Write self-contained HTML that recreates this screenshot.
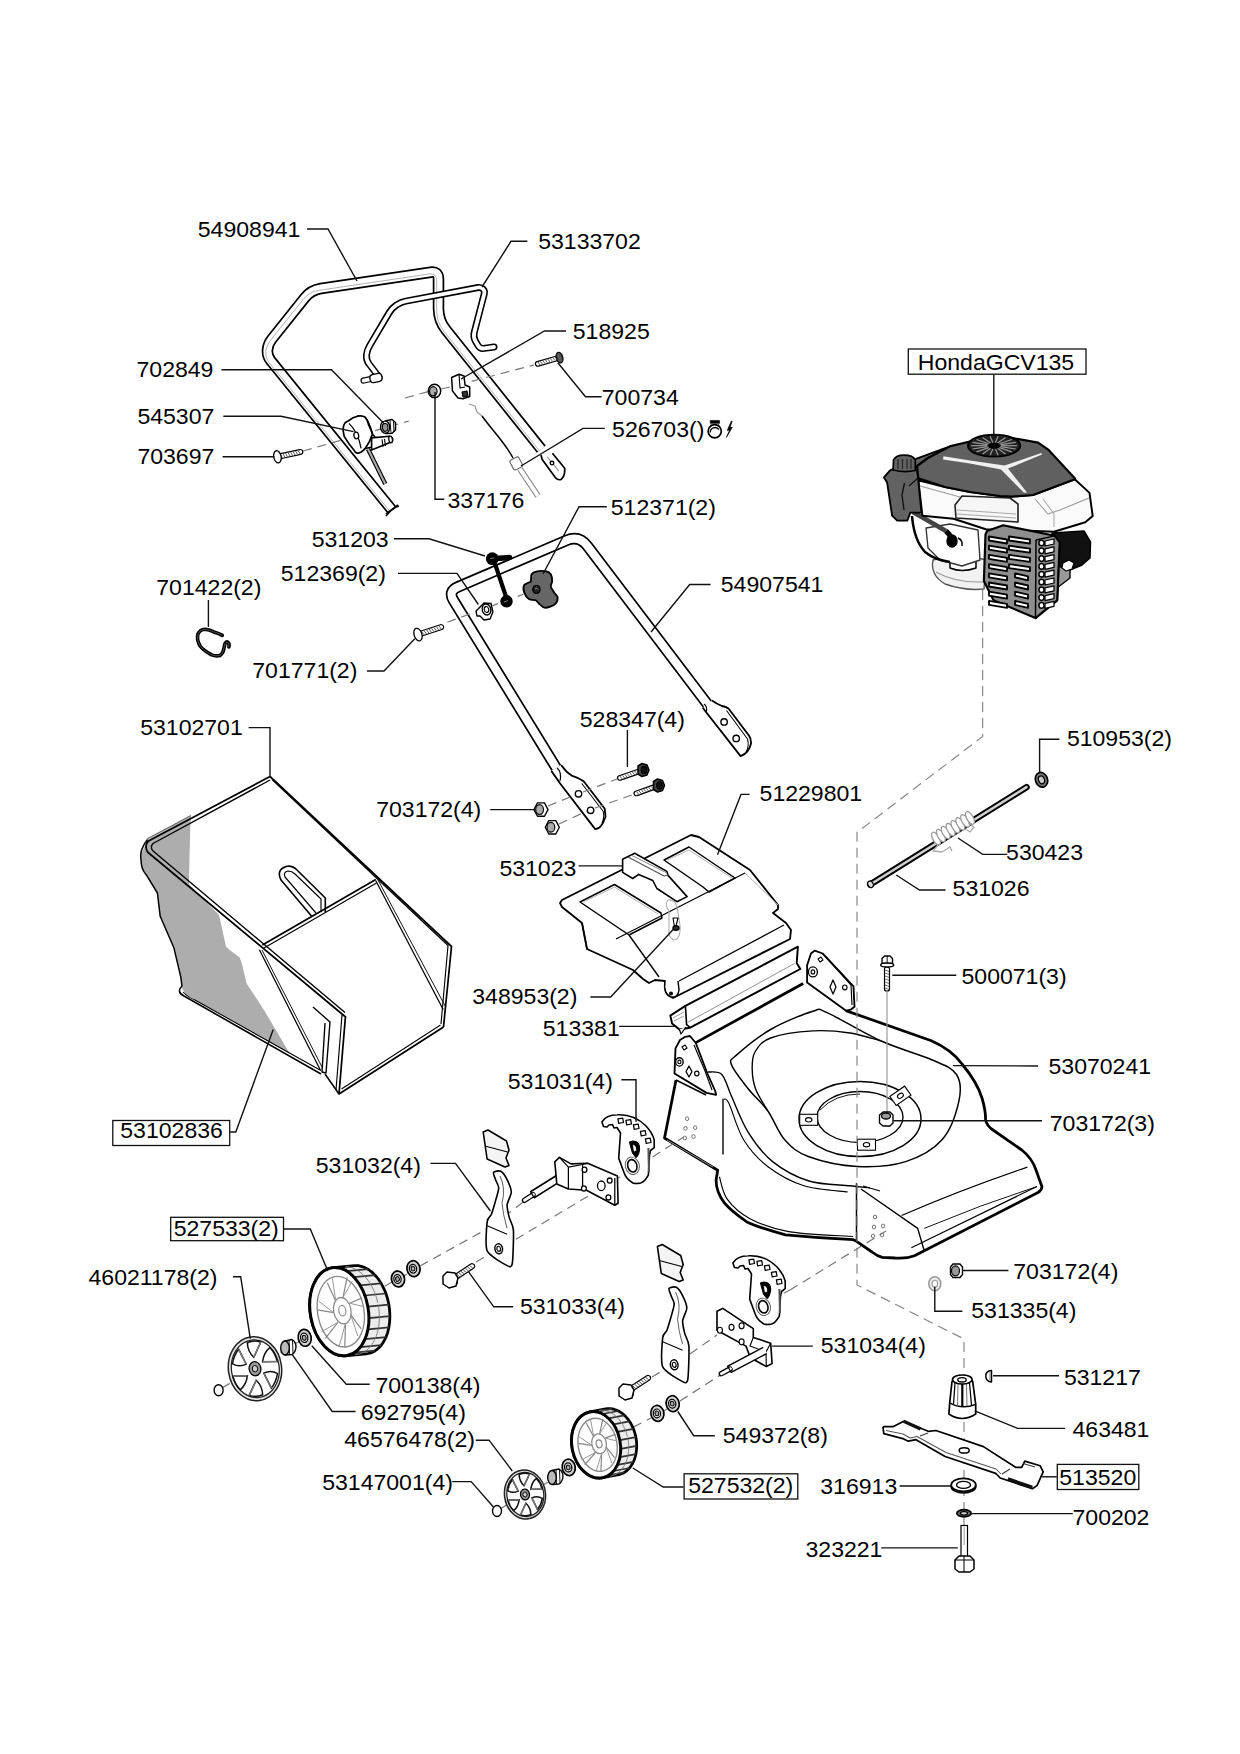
<!DOCTYPE html><html><head><meta charset="utf-8"><style>html,body{margin:0;padding:0;background:#fff}svg{display:block}</style></head><body>
<svg width="1240" height="1754" viewBox="0 0 1240 1754">
<rect width="1240" height="1754" fill="#fff"/>
<path d="M392.0,510.0 L270.8,360.7 Q267.0,356.0 267.5,350.0 L267.5,350.0 Q268.0,344.0 271.7,339.3 L304.8,297.8 Q311.0,290.0 320.9,288.5 L430.6,272.2 Q438.5,271.0 438.5,279.0 L438.5,308.5 Q438.5,320.5 446.0,329.9 L541.3,449.2" fill="none" stroke="#000" stroke-width="11.5" stroke-linecap="butt" stroke-linejoin="round"/>
<path d="M392.0,510.0 L270.8,360.7 Q267.0,356.0 267.5,350.0 L267.5,350.0 Q268.0,344.0 271.7,339.3 L304.8,297.8 Q311.0,290.0 320.9,288.5 L430.6,272.2 Q438.5,271.0 438.5,279.0 L438.5,308.5 Q438.5,320.5 446.0,329.9 L541.3,449.2" fill="none" stroke="#fff" stroke-width="8.1" stroke-linecap="butt" stroke-linejoin="round"/>
<path d="M392.0,510.0 L270.8,360.7 Q267.0,356.0 267.5,350.0 L267.5,350.0 Q268.0,344.0 271.7,339.3 L304.8,297.8 Q311.0,290.0 320.9,288.5 L430.6,272.2 Q438.5,271.0 438.5,279.0 L438.5,308.5 Q438.5,320.5 446.0,329.9 L541.3,449.2" fill="none" stroke="#aaa" stroke-width="0.9" stroke-linecap="butt" transform="translate(-1.8,1.8)"/>
<path d="M386,514 L398,505" fill="none" stroke="#000" stroke-width="1.61" stroke-linejoin="round" />
<path d="M379.0,377.0 L369.1,364.0 Q366.0,360.0 366.5,355.0 L366.5,355.0 Q367.0,350.0 369.6,345.7 L389.2,312.6 Q392.0,308.0 396.5,305.0 L396.8,304.8 Q401.0,302.0 405.9,301.1 L478.2,287.5 Q481.0,287.0 483.0,289.0 L483.0,289.0 Q485.0,291.0 484.3,293.7 L474.3,332.2 Q473.0,337.0 475.5,341.3 L478.0,345.5 Q480.0,349.0 484.0,348.4 L494.0,347.0" fill="none" stroke="#000" stroke-width="7.0" stroke-linecap="round" stroke-linejoin="round"/>
<path d="M379.0,377.0 L369.1,364.0 Q366.0,360.0 366.5,355.0 L366.5,355.0 Q367.0,350.0 369.6,345.7 L389.2,312.6 Q392.0,308.0 396.5,305.0 L396.8,304.8 Q401.0,302.0 405.9,301.1 L478.2,287.5 Q481.0,287.0 483.0,289.0 L483.0,289.0 Q485.0,291.0 484.3,293.7 L474.3,332.2 Q473.0,337.0 475.5,341.3 L478.0,345.5 Q480.0,349.0 484.0,348.4 L494.0,347.0" fill="none" stroke="#fff" stroke-width="3.8" stroke-linecap="round" stroke-linejoin="round"/>
<rect x="361" y="377.5" width="11" height="5" rx="2.5" fill="#fff" stroke="#000" stroke-width="1.2" transform="rotate(-12 366 380)"/>
<rect x="370" y="374" width="12" height="8" rx="3" fill="#fff" stroke="#000" stroke-width="1.3" transform="rotate(-12 376 378)"/>
<path d="M303.0,451.0 L409.0,421.0" fill="none" stroke="#777" stroke-width="1.2" stroke-dasharray="9,6"/>
<path d="M405.0,398.0 L434.0,390.0" fill="none" stroke="#777" stroke-width="1.2" stroke-dasharray="9,6"/>
<path d="M441.0,389.0 L452.0,386.5" fill="none" stroke="#777" stroke-width="1.2" stroke-dasharray="9,6"/>
<path d="M471.6,381.3 L534.0,365.0" fill="none" stroke="#777" stroke-width="1.2" stroke-dasharray="9,6"/>
<g transform="translate(302.7,451.5) rotate(168.1)">
<rect x="0" y="-2.5" width="25.8" height="5.0" rx="2.5" fill="#fff" stroke="#000" stroke-width="1.2"/>
<line x1="3.0" y1="-1.9" x2="4.2" y2="1.9" stroke="#555" stroke-width="0.9"/>
<line x1="5.6" y1="-1.9" x2="6.8" y2="1.9" stroke="#555" stroke-width="0.9"/>
<line x1="8.2" y1="-1.9" x2="9.4" y2="1.9" stroke="#555" stroke-width="0.9"/>
<line x1="10.8" y1="-1.9" x2="12.0" y2="1.9" stroke="#555" stroke-width="0.9"/>
<line x1="13.4" y1="-1.9" x2="14.6" y2="1.9" stroke="#555" stroke-width="0.9"/>
<line x1="16.0" y1="-1.9" x2="17.2" y2="1.9" stroke="#555" stroke-width="0.9"/>
<line x1="18.6" y1="-1.9" x2="19.8" y2="1.9" stroke="#555" stroke-width="0.9"/>
<line x1="21.2" y1="-1.9" x2="22.4" y2="1.9" stroke="#555" stroke-width="0.9"/>
<ellipse cx="25.8" cy="0" rx="3.7" ry="6.2" fill="#fff" stroke="#000" stroke-width="1.3"/>
</g>
<path d="M368,449 L385.3,484" stroke="#000" stroke-width="4.4" fill="none"/>
<path d="M368,449 L385.3,484" stroke="#aaa" stroke-width="2.1" fill="none"/>
<path d="M357.9,416.1 L365.2,417.3 Q370,424 372.4,433.9 L376.5,438.7 L372,447 L365.2,448.4Z" fill="#fff" stroke="#000" stroke-width="1.49" stroke-linejoin="round" />
<path d="M371.6,437.9 L389.4,436.2 Q393.5,437.5 392.6,440.5 Q392,442.5 390.5,442.3 L371.6,450Z" fill="#fff" stroke="#000" stroke-width="1.61" stroke-linejoin="round" />
<ellipse cx="390.6" cy="439.4" rx="1.8" ry="3.4" transform="rotate(-10 390.6 439.4)" fill="#fff" stroke="#000" stroke-width="1.26"/>
<path d="M382,439.5 L383,447 M384.5,439 L385.5,446" fill="none" stroke="#000" stroke-width="1.15" stroke-linejoin="round" />
<path d="M343.4,426.6 Q344.5,422 348.2,421 Q353,417 357.9,416.1 Q363,415.5 365.2,417.3 Q368,421 368.4,424.2 Q371,430 372.4,433.9 Q370,442 365.2,448.4 Q361,453.5 357.1,453.2 Q355,452.5 353.9,450 Q348,443 344.2,436.3 Q342.5,431 343.4,426.6Z" fill="#fff" stroke="#000" stroke-width="1.72" stroke-linejoin="round" />
<path d="M349,423.4 Q358,432 361.1,448.4" fill="none" stroke="#000" stroke-width="1.26" stroke-linejoin="round" />
<ellipse cx="356.3" cy="435.5" rx="2.4" ry="3.3" transform="rotate(-10 356.3 435.5)" fill="#fff" stroke="#000" stroke-width="1.26"/>
<path d="M386,420.8 L392,419.5 L395.5,422.5 L395.5,430 L392,433.3 L386,433.5Z" fill="#fff" stroke="#000" stroke-width="1.49" stroke-linejoin="round" />
<ellipse cx="385.2" cy="427.2" rx="4.6" ry="6.1" transform="rotate(-5 385.2 427.2)" fill="#fff" stroke="#000" stroke-width="1.49"/>
<ellipse cx="385.2" cy="427.4" rx="2.8" ry="3.9" transform="rotate(-5 385.2 427.4)" fill="#999" stroke="#000" stroke-width="1.15"/>
<path d="M390,420.5 L391,433 M393.5,421.5 L394,432" fill="none" stroke="#000" stroke-width="0.92" stroke-linejoin="round" />
<ellipse cx="434.5" cy="391.0" rx="6.2" ry="6.8" transform="rotate(0 434.5 391.0)" fill="#fff" stroke="#000" stroke-width="1.49"/>
<ellipse cx="433.3" cy="391.3" rx="3.8" ry="4.6" transform="rotate(0 433.3 391.3)" fill="#aaa" stroke="#000" stroke-width="1.15"/>
<path d="M451.6,377.5 L459.0,374.2 L464.0,376.0 L465.0,385.0 L469.7,387.0 L469.7,396.5 L463.0,398.7 L458.0,398.0 L452.5,391.0Z" fill="#fff" stroke="#000" stroke-width="1.49" stroke-linejoin="round" />
<path d="M459,374.5 L460,388 L465,387" fill="none" stroke="#000" stroke-width="1.15" stroke-linejoin="round" />
<path d="M462.0,392.0 L467.0,391.0 L468.0,396.0 L463.0,397.0Z" fill="#333" stroke="#000" stroke-width="1.15" stroke-linejoin="round" />
<g transform="translate(535.5,364.5) rotate(-16.0)">
<rect x="0" y="-2.3" width="25.0" height="4.6" rx="2.3" fill="#fff" stroke="#000" stroke-width="1.2"/>
<line x1="3.0" y1="-1.7" x2="4.2" y2="1.7" stroke="#555" stroke-width="0.9"/>
<line x1="5.6" y1="-1.7" x2="6.8" y2="1.7" stroke="#555" stroke-width="0.9"/>
<line x1="8.2" y1="-1.7" x2="9.4" y2="1.7" stroke="#555" stroke-width="0.9"/>
<line x1="10.8" y1="-1.7" x2="12.0" y2="1.7" stroke="#555" stroke-width="0.9"/>
<line x1="13.4" y1="-1.7" x2="14.6" y2="1.7" stroke="#555" stroke-width="0.9"/>
<line x1="16.0" y1="-1.7" x2="17.2" y2="1.7" stroke="#555" stroke-width="0.9"/>
<line x1="18.6" y1="-1.7" x2="19.8" y2="1.7" stroke="#555" stroke-width="0.9"/>
<line x1="21.2" y1="-1.7" x2="22.4" y2="1.7" stroke="#555" stroke-width="0.9"/>
<ellipse cx="25.0" cy="0" rx="3.2" ry="5.4" fill="#555" stroke="#000" stroke-width="1.3"/>
</g>
<path d="M469,404 L475,406 L477,412 L482,416" fill="none" stroke="#999" stroke-width="1.15" stroke-linejoin="round" />
<path d="M482,416 C492,430 506,444 513,458" fill="none" stroke="#000" stroke-width="1.49" stroke-linejoin="round" />
<rect x="511" y="458" width="10" height="11" rx="2" fill="#fff" stroke="#666" stroke-width="1.1" transform="rotate(-28 516 463)"/>
<path d="M520,469 L538,496" stroke="#888" stroke-width="6" fill="none"/><path d="M520,469 L538,496" stroke="#fff" stroke-width="4" fill="none"/>
<path d="M541,455 L542.2,459.5 L555.3,477.6 Q558,480.5 561,479.5 Q565,476 564.7,469.7 L564.7,468.2 L552.4,453.3" fill="#fff" stroke="#000" stroke-width="1.72" stroke-linejoin="round" />
<path d="M547.3,456.6 L558.6,471.1" fill="none" stroke="#999" stroke-width="1.03" stroke-linejoin="round" />
<ellipse cx="552.0" cy="463.1" rx="1.8" ry="1.8" transform="rotate(0 552.0 463.1)" fill="#fff" stroke="#000" stroke-width="1.38"/>
<path d="M386,516 Q392,508 399,506" fill="none" stroke="#000" stroke-width="1.38" stroke-linejoin="round" />
<path d="M556.3,768.0 L453.6,600.6 Q447.8,591.2 457.9,586.9 L566.2,540.5 Q579.1,535.0 587.6,546.2 L707.3,704.0" fill="none" stroke="#000" stroke-width="11.5" stroke-linecap="butt" stroke-linejoin="round"/>
<path d="M556.3,768.0 L453.6,600.6 Q447.8,591.2 457.9,586.9 L566.2,540.5 Q579.1,535.0 587.6,546.2 L707.3,704.0" fill="none" stroke="#fff" stroke-width="8.1" stroke-linecap="butt" stroke-linejoin="round"/>
<path d="M551.4,771 L560.3,783.7 L595,828.9 Q601,830 605.5,816.8 L604.7,808.7 L583.7,781.3 Q578,777.5 571.6,775.6 Q566,772 561.2,765" fill="#fff" stroke="#000" stroke-width="1.84" stroke-linejoin="round" />
<path d="M581.8,783.5 L603.3,811.5 Q604.5,818 602,823" fill="none" stroke="#000" stroke-width="1.03" stroke-linejoin="round" />
<path d="M557,768 Q562,772 560,781" fill="none" stroke="#000" stroke-width="1.15" stroke-linejoin="round" />
<ellipse cx="578.5" cy="793.8" rx="3.2" ry="3.2" transform="rotate(0 578.5 793.8)" fill="#fff" stroke="#000" stroke-width="1.38"/>
<ellipse cx="590.6" cy="810.3" rx="3.2" ry="3.2" transform="rotate(0 590.6 810.3)" fill="#fff" stroke="#000" stroke-width="1.38"/>
<path d="M702.7,707.5 L705.2,711 L740.6,756.1 Q749,753 751.1,743.2 Q751,738 748.7,735.2 L728.5,708.5 Q726,706.9 722,706 Q716.5,703.7 711.9,700.5" fill="#fff" stroke="#000" stroke-width="1.84" stroke-linejoin="round" />
<path d="M726.5,710.5 L747.5,739 Q749.5,746 746,752" fill="none" stroke="#000" stroke-width="1.03" stroke-linejoin="round" />
<path d="M704,704 Q708,707 706,712" fill="none" stroke="#000" stroke-width="1.15" stroke-linejoin="round" />
<ellipse cx="724.1" cy="721.9" rx="3.2" ry="3.2" transform="rotate(0 724.1 721.9)" fill="#fff" stroke="#000" stroke-width="1.38"/>
<ellipse cx="736.2" cy="738.4" rx="3.2" ry="3.2" transform="rotate(0 736.2 738.4)" fill="#fff" stroke="#000" stroke-width="1.38"/>
<path d="M548.0,806.0 L575.0,795.0" fill="none" stroke="#777" stroke-width="1.2" stroke-dasharray="9,6"/>
<path d="M559.0,824.0 L587.0,811.0" fill="none" stroke="#777" stroke-width="1.2" stroke-dasharray="9,6"/>
<path d="M583.0,792.0 L617.0,779.0" fill="none" stroke="#777" stroke-width="1.2" stroke-dasharray="9,6"/>
<path d="M595.0,808.0 L633.0,794.5" fill="none" stroke="#777" stroke-width="1.2" stroke-dasharray="9,6"/>
<g transform="translate(617.7,778.7) rotate(-18.9)">
<rect x="0" y="-2.3" width="24.6" height="4.6" rx="2.3" fill="#fff" stroke="#000" stroke-width="1.2"/>
<line x1="3.0" y1="-1.7" x2="4.2" y2="1.7" stroke="#555" stroke-width="0.9"/>
<line x1="5.6" y1="-1.7" x2="6.8" y2="1.7" stroke="#555" stroke-width="0.9"/>
<line x1="8.2" y1="-1.7" x2="9.4" y2="1.7" stroke="#555" stroke-width="0.9"/>
<line x1="10.8" y1="-1.7" x2="12.0" y2="1.7" stroke="#555" stroke-width="0.9"/>
<line x1="13.4" y1="-1.7" x2="14.6" y2="1.7" stroke="#555" stroke-width="0.9"/>
<line x1="16.0" y1="-1.7" x2="17.2" y2="1.7" stroke="#555" stroke-width="0.9"/>
<line x1="18.6" y1="-1.7" x2="19.8" y2="1.7" stroke="#555" stroke-width="0.9"/>
<line x1="21.2" y1="-1.7" x2="22.4" y2="1.7" stroke="#555" stroke-width="0.9"/>
<ellipse cx="24.6" cy="0" rx="0.1" ry="0.1" fill="#fff" stroke="#000" stroke-width="1.3"/>
</g>
<path d="M638,766 L642,763.5 L647,765 L649,770 L647,775 L642,776.5 L638,774Z" fill="#444" stroke="#000" stroke-width="1.49" stroke-linejoin="round" />
<ellipse cx="644.0" cy="770.0" rx="2.8" ry="3.6" transform="rotate(0 644.0 770.0)" fill="#111" stroke="#000" stroke-width="1.15"/>
<g transform="translate(634.2,794.2) rotate(-19.7)">
<rect x="0" y="-2.3" width="23.7" height="4.6" rx="2.3" fill="#fff" stroke="#000" stroke-width="1.2"/>
<line x1="3.0" y1="-1.7" x2="4.2" y2="1.7" stroke="#555" stroke-width="0.9"/>
<line x1="5.6" y1="-1.7" x2="6.8" y2="1.7" stroke="#555" stroke-width="0.9"/>
<line x1="8.2" y1="-1.7" x2="9.4" y2="1.7" stroke="#555" stroke-width="0.9"/>
<line x1="10.8" y1="-1.7" x2="12.0" y2="1.7" stroke="#555" stroke-width="0.9"/>
<line x1="13.4" y1="-1.7" x2="14.6" y2="1.7" stroke="#555" stroke-width="0.9"/>
<line x1="16.0" y1="-1.7" x2="17.2" y2="1.7" stroke="#555" stroke-width="0.9"/>
<line x1="18.6" y1="-1.7" x2="19.8" y2="1.7" stroke="#555" stroke-width="0.9"/>
<ellipse cx="23.7" cy="0" rx="0.1" ry="0.1" fill="#fff" stroke="#000" stroke-width="1.3"/>
</g>
<path d="M653.5,781.5 L657.5,779.0 L662.5,780.5 L664.5,785.5 L662.5,790.5 L657.5,792.0 L653.5,789.5Z" fill="#444" stroke="#000" stroke-width="1.49" stroke-linejoin="round" />
<ellipse cx="659.5" cy="785.5" rx="2.8" ry="3.6" transform="rotate(0 659.5 785.5)" fill="#111" stroke="#000" stroke-width="1.15"/>
<path d="M548.0,809.6 L544.5,816.3 L537.5,816.3 L534.0,809.6 L537.5,802.9 L544.5,802.9Z" fill="#fff" stroke="#000" stroke-width="1.38" stroke-linejoin="round" />
<ellipse cx="539.6" cy="809.6" rx="3.9" ry="4.9" transform="rotate(0 539.6 809.6)" fill="#aaa" stroke="#000" stroke-width="1.15"/>
<path d="M559.3,827.3 L555.8,834.0 L548.8,834.0 L545.3,827.3 L548.8,820.6 L555.8,820.6Z" fill="#fff" stroke="#000" stroke-width="1.38" stroke-linejoin="round" />
<ellipse cx="550.9" cy="827.3" rx="3.9" ry="4.9" transform="rotate(0 550.9 827.3)" fill="#aaa" stroke="#000" stroke-width="1.15"/>
<path d="M447.3,622.3 L523.4,594.2" fill="none" stroke="#777" stroke-width="1.2" stroke-dasharray="9,6"/>
<g transform="translate(443.5,626.4) rotate(162.2)">
<rect x="0" y="-2.5" width="26.8" height="5.0" rx="2.5" fill="#fff" stroke="#000" stroke-width="1.2"/>
<line x1="3.0" y1="-1.9" x2="4.2" y2="1.9" stroke="#555" stroke-width="0.9"/>
<line x1="5.6" y1="-1.9" x2="6.8" y2="1.9" stroke="#555" stroke-width="0.9"/>
<line x1="8.2" y1="-1.9" x2="9.4" y2="1.9" stroke="#555" stroke-width="0.9"/>
<line x1="10.8" y1="-1.9" x2="12.0" y2="1.9" stroke="#555" stroke-width="0.9"/>
<line x1="13.4" y1="-1.9" x2="14.6" y2="1.9" stroke="#555" stroke-width="0.9"/>
<line x1="16.0" y1="-1.9" x2="17.2" y2="1.9" stroke="#555" stroke-width="0.9"/>
<line x1="18.6" y1="-1.9" x2="19.8" y2="1.9" stroke="#555" stroke-width="0.9"/>
<line x1="21.2" y1="-1.9" x2="22.4" y2="1.9" stroke="#555" stroke-width="0.9"/>
<ellipse cx="26.8" cy="0" rx="3.9" ry="6.5" fill="#fff" stroke="#000" stroke-width="1.3"/>
</g>
<path d="M476.1,611.0 L481.0,606.0 L484.0,603.0 L491.0,603.5 L492.9,612.0 L490.0,619.0 L484.0,620.0 L480.0,616.0 L477.0,616.0Z" fill="#fff" stroke="#000" stroke-width="1.38" stroke-linejoin="round" />
<ellipse cx="486.5" cy="609.5" rx="4.3" ry="5.6" transform="rotate(-15 486.5 609.5)" fill="#fff" stroke="#000" stroke-width="1.38"/>
<ellipse cx="486.5" cy="609.5" rx="2.2" ry="3.0" transform="rotate(-15 486.5 609.5)" fill="#fff" stroke="#000" stroke-width="1.15"/>
<path d="M494.2,561.3 L507.1,600" stroke="#000" stroke-width="4.2" fill="none"/>
<path d="M496,558.5 L509.7,557.4" stroke="#000" stroke-width="5.5" stroke-linecap="round" fill="none"/>
<circle cx="492.3" cy="558.7" r="6.4" fill="#000"/><circle cx="506.5" cy="601.3" r="6.2" fill="#000"/>
<line x1="490.0" y1="558.5" x2="494.0" y2="558.0" stroke="#999" stroke-width="0.8"/>
<line x1="504.0" y1="602.0" x2="508.0" y2="600.5" stroke="#999" stroke-width="0.8"/>
<path d="M531.6,574.3 C532.5,572.8 534.8,571.7 537.1,571.3 C539.4,570.9 544.6,571.0 546.7,571.5 C548.8,572.0 550.0,572.9 550.8,574.3 C551.6,575.7 552.2,579.3 552.2,581.1 C552.2,582.9 550.4,584.7 550.8,586.6 C551.2,588.5 553.9,591.9 554.9,593.5 C555.9,595.1 557.7,596.0 557.7,597.6 C557.7,599.2 556.8,602.9 554.9,604.4 C553.0,605.9 547.6,607.9 545.3,607.9 C543.0,607.9 541.2,605.5 539.8,604.4 C538.4,603.3 537.3,601.1 535.7,600.3 C534.1,599.5 530.6,600.2 528.9,599.0 C527.2,597.8 524.8,594.2 524.1,592.1 C523.4,590.0 523.4,586.6 524.1,585.2 C524.8,583.8 527.9,583.1 528.9,582.5 C529.9,581.9 530.5,582.3 530.9,581.1 C531.3,579.9 530.7,575.8 531.6,574.3Z" fill="#666" stroke="#000" stroke-width="1.84" stroke-linejoin="round" />
<ellipse cx="536.4" cy="589.4" rx="3.6" ry="4.0" transform="rotate(0 536.4 589.4)" fill="#222" stroke="#000" stroke-width="1.38"/>
<path d="M535,589 Q537,587 538,589.5" fill="none" stroke="#999" stroke-width="0.92" stroke-linejoin="round" />
<path d="M222.3,635.4 Q218,633 213.8,631.9 Q209,629.5 205,629.3 Q200,629.5 197.9,634.1 Q196.5,640 200.1,646 Q203,650 211.6,654.9 Q216,656.5 220,655.5 Q223.5,653 224,647.8 L224.9,643.8 Q226,641.5 227.5,642 Q229.8,643.5 228.9,646.9" fill="none" stroke="#000" stroke-width="3.6" stroke-linecap="round" stroke-linejoin="round"/>
<path d="M222.3,635.4 Q218,633 213.8,631.9 Q209,629.5 205,629.3 Q200,629.5 197.9,634.1 Q196.5,640 200.1,646 Q203,650 211.6,654.9 Q216,656.5 220,655.5 Q223.5,653 224,647.8 L224.9,643.8 Q226,641.5 227.5,642 Q229.8,643.5 228.9,646.9" fill="none" stroke="#fff" stroke-width="0.3" stroke-linecap="round" stroke-linejoin="round"/>
<path d="M191.0,816.0 L147.8,839.5 L141.0,854.6 L142.3,868.3 L146.5,875.2 L157.4,893.0 L160.2,916.3 L173.9,947.8 L180.7,976.6 L182.0,988.0 L186.0,995.0 L290.0,1054.0 L265.5,1012.6 L257.5,1000.0 L246.5,983.5 L242.4,965.6 L239.7,957.4 L228.7,949.2 L226.0,946.5 L219.0,915.0 L189.0,884.0 L189.0,880.6 L190.3,826.0Z" fill="#adadad" stroke="none" stroke-width="0.00" stroke-linejoin="round" />
<path d="M147.5,839.5 Q139,850 141,860 Q141,869 146.5,875.2 L157.4,893 L160.2,916.3 L173.9,947.8 L180.7,976.6 L182,986" fill="none" stroke="#000" stroke-width="1.49" stroke-linejoin="round" />
<path d="M147,839 L191,815.5" fill="none" stroke="#666" stroke-width="1.15" stroke-linejoin="round" />
<path d="M270,776.5 L148.5,841 Q144,845 147.5,852 L345,1016.5" fill="none" stroke="#000" stroke-width="1.72" stroke-linejoin="round" />
<path d="M270,780 L153,843.5 Q150,846.5 152.5,850.5 L345,1012.5" fill="none" stroke="#000" stroke-width="1.38" stroke-linejoin="round" />
<path d="M270,776.5 L451.5,946.5 L443.5,1027" fill="none" stroke="#000" stroke-width="1.72" stroke-linejoin="round" />
<path d="M272,779.5 L448,945.5 L441,1024" fill="none" stroke="#000" stroke-width="1.15" stroke-linejoin="round" />
<path d="M262.4,945 L375.8,879.5" fill="none" stroke="#000" stroke-width="1.72" stroke-linejoin="round" />
<path d="M264,948 L376.5,883" fill="none" stroke="#000" stroke-width="1.15" stroke-linejoin="round" />
<path d="M375.8,880.8 L443.2,1009.5" fill="none" stroke="#000" stroke-width="1.26" stroke-linejoin="round" />
<path d="M378,880 L445.2,1006" fill="none" stroke="#000" stroke-width="0.92" stroke-linejoin="round" />
<path d="M259.4,949.8 L320.7,1070.8" fill="none" stroke="#000" stroke-width="1.26" stroke-linejoin="round" />
<path d="M262,950 L322.5,1068" fill="none" stroke="#000" stroke-width="0.92" stroke-linejoin="round" />
<path d="M345.5,1016 L339,1094 L443.5,1027" fill="none" stroke="#000" stroke-width="1.72" stroke-linejoin="round" />
<path d="M341.5,1089 L440.5,1025" fill="none" stroke="#000" stroke-width="1.03" stroke-linejoin="round" />
<path d="M342,1015 L336,1090" fill="none" stroke="#000" stroke-width="1.15" stroke-linejoin="round" />
<path d="M339,1094 L325,1074" fill="none" stroke="#000" stroke-width="1.49" stroke-linejoin="round" />
<path d="M182,986 Q176,992 184,996 L321,1074" fill="none" stroke="#000" stroke-width="1.61" stroke-linejoin="round" />
<path d="M183,992 Q189,998 195,1000 L320,1070" fill="none" stroke="#000" stroke-width="1.03" stroke-linejoin="round" />
<path d="M313,1007 L330,1022 L326,1073 L322,1072 L325,1023" fill="#fff" stroke="#000" stroke-width="1.38" stroke-linejoin="round" />
<path d="M311.5,916 L281,880 Q276,870 286,866.5 Q292,865 297,870 L325.3,898 L325.3,912" fill="none" stroke="#000" stroke-width="1.61" stroke-linejoin="round" />
<path d="M316,913 L285,877 Q283,872 288,871 Q292,871 295,874 L321,899 L321,912" fill="none" stroke="#000" stroke-width="1.15" stroke-linejoin="round" />
<path d="M560.0,903.0 L562.0,900.0 L691.0,835.0 L699.0,837.0 L750.0,870.0 L778.0,905.0 L778.0,909.0 L773.0,913.0 L786.0,923.0 L791.0,930.0 L790.0,939.0 L679.0,995.0 L673.0,998.0 L668.0,995.0 L665.0,981.0 L655.0,980.0 L649.0,983.0 L643.0,979.0 L633.0,970.0 L587.0,949.0 L582.0,923.0 L562.0,907.0Z" fill="#fff" stroke="#000" stroke-width="1.84" stroke-linejoin="round" />
<path d="M580.0,902.0 L614.5,884.5 L661.0,913.0 L662.0,918.0 L629.0,935.0Z" fill="#fff" stroke="#000" stroke-width="1.49" stroke-linejoin="round" />
<path d="M583,902 L614.5,887 L658,914" fill="none" stroke="#aaa" stroke-width="0.92" stroke-linejoin="round" />
<path d="M664.0,860.0 L689.0,847.0 L735.0,878.0 L709.0,892.0 L703.0,887.0Z" fill="#fff" stroke="#000" stroke-width="1.49" stroke-linejoin="round" />
<path d="M667,860 L689,850 L732,878" fill="none" stroke="#aaa" stroke-width="0.92" stroke-linejoin="round" />
<path d="M616,939 L745,873" fill="none" stroke="#000" stroke-width="1.26" stroke-linejoin="round" />
<path d="M679,981 L784,925" fill="none" stroke="#000" stroke-width="1.26" stroke-linejoin="round" />
<path d="M629,935 L659,977" fill="none" stroke="#000" stroke-width="1.38" stroke-linejoin="round" />
<path d="M582,923 L587,949" fill="none" stroke="#000" stroke-width="1.38" stroke-linejoin="round" />
<path d="M745,873 L778,905" fill="none" stroke="#aaa" stroke-width="0.92" stroke-linejoin="round" />
<path d="M665,981 Q663,994 671,997 Q678,998 679,990 L678,981" fill="#fff" stroke="#000" stroke-width="1.49" stroke-linejoin="round" />
<circle cx="671" cy="993.4" r="2" fill="#000"/>
<path d="M622.6,859.3 L634.7,853.3 L666.9,871.4 L668.0,875.4 L687.1,896.6 L677.0,901.7 L656.9,888.5 L652.8,880.5 L638.7,874.4 L632.7,878.5 L622.6,872.4Z" fill="#fff" stroke="#000" stroke-width="1.61" stroke-linejoin="round" />
<path d="M628,857 L664,876 L668,875" fill="none" stroke="#555" stroke-width="1.15" stroke-linejoin="round" />
<path d="M631,855 L667,873" fill="none" stroke="#777" stroke-width="0.92" stroke-linejoin="round" />
<path d="M669,911 Q664,905 668,900 Q675,899 677,907 L680,925 Q681,939 674,940 Q668,938 669,928Z" fill="none" stroke="#aaa" stroke-width="1.03" stroke-linejoin="round" />
<path d="M673,918 L675,930 L678,918Z" fill="#fff" stroke="#000" stroke-width="1.15" stroke-linejoin="round" />
<ellipse cx="676.0" cy="928.0" rx="3.0" ry="2.2" transform="rotate(0 676.0 928.0)" fill="#333" stroke="#000" stroke-width="1.38"/>
<path d="M670.3,1015.6 L685.4,1005.9 L797.9,946.7 L796.7,963.0 L800.3,969.0 L690.2,1027.7 L679.4,1029.5 L672.1,1023.5Z" fill="#fff" stroke="#000" stroke-width="1.95" stroke-linejoin="round" />
<path d="M685.4,1005.9 L686.6,1024.7 L690.2,1027.7" fill="none" stroke="#000" stroke-width="1.61" stroke-linejoin="round" />
<path d="M687.8,1022.3 L794.3,963.6" fill="none" stroke="#888" stroke-width="0.92" stroke-linejoin="round" />
<path d="M673,1018 L684,1012 M674,1021 L684,1016" fill="none" stroke="#888" stroke-width="0.80" stroke-linejoin="round" />
<path d="M679.4,1029.5 L681,1034 L686,1027" fill="#fff" stroke="#000" stroke-width="1.26" stroke-linejoin="round" />
<path d="M695.8,1042.6 L803.2,983.5 L845.8,1010.6 L931.4,1040.8 Q952,1050 962,1064 Q977,1082 982,1098 Q986,1112 985.5,1120 Q987,1126 993,1130 L1021.8,1150 Q1032,1158 1036,1170 L1041.9,1186.5 Q1042,1190 1038,1192.5 L914.5,1255.8 Q906,1259 895,1258 L882.3,1257.4 Q877,1256 872,1252 L856.5,1241.3 L853.2,1239.7 Q820,1238 785.5,1234.8 Q760,1228 746.8,1221.9 Q730,1210 724.2,1202.6 Q716,1192 716.1,1180 L717.7,1170.3 L664.5,1138 L676,1080Z" fill="#fff" stroke="none" stroke-width="0.00" stroke-linejoin="round" />
<path d="M695.8,1042.6 L803.2,983.5 M845.8,1010.6 L931.4,1040.8 Q952,1050 962,1064 Q977,1082 982,1098 Q986,1112 985.5,1120 Q987,1126 993,1130 L1021.8,1150 Q1032,1158 1036,1170 L1041.9,1186.5 Q1042,1190 1038,1192.5 L914.5,1255.8 Q906,1259 895,1258 L882.3,1257.4 Q877,1256 872,1252 L856.5,1241.3 L853.2,1239.7 Q820,1238 785.5,1234.8 Q760,1228 746.8,1221.9 Q730,1210 724.2,1202.6 Q716,1192 716.1,1180 L717.7,1170.3 L664.5,1138 L676,1080" fill="none" stroke="#000" stroke-width="2.76" stroke-linejoin="round" />
<path d="M731.5,1064.8 C733.5,1070.5 742.4,1081.3 748.4,1089.0 C754.4,1096.7 761.7,1102.3 767.7,1110.8 C773.8,1119.3 777.8,1132.1 784.7,1139.8 C791.6,1147.5 796.8,1152.3 808.9,1156.8 C821.0,1161.2 841.2,1165.7 857.3,1166.5 C873.4,1167.3 891.6,1166.0 905.7,1161.6 C919.8,1157.1 933.1,1149.9 942.0,1139.8 C950.9,1129.7 956.5,1112.0 958.9,1101.1 C961.3,1090.2 960.9,1081.3 956.5,1074.5 C952.1,1067.7 944.9,1065.6 932.3,1060.0 C919.6,1054.4 898.1,1048.7 880.6,1040.8 C863.1,1032.9 838.3,1017.5 827.0,1012.6 C815.7,1007.7 822.3,1008.4 812.9,1011.2 C803.5,1014.0 783.3,1022.2 770.6,1029.5 C757.9,1036.8 743.2,1049.0 736.7,1054.9 C730.2,1060.8 729.5,1059.1 731.5,1064.8Z" fill="none" stroke="#000" stroke-width="1.49" stroke-linejoin="round" />
<path d="M880.6,1040.8 C875.5,1039.5 861.3,1034.7 850.0,1033.0 C838.7,1031.3 826.1,1030.1 812.9,1030.9 C799.7,1031.7 780.2,1034.5 770.6,1038.0 C761.0,1041.5 758.1,1046.8 755.0,1052.0 C751.9,1057.2 752.1,1062.8 752.2,1069.0 C752.3,1075.2 753.0,1082.0 755.6,1089.0 C758.2,1096.0 765.7,1107.2 767.7,1110.8" fill="none" stroke="#000" stroke-width="1.38" stroke-linejoin="round" />
<path d="M708.0,1072.0 C710.3,1072.4 717.9,1070.5 721.8,1074.5 C725.7,1078.5 727.1,1086.6 731.5,1096.3 C735.9,1106.0 741.5,1121.7 748.4,1132.6 C755.2,1143.5 762.5,1153.5 772.6,1161.6 C782.7,1169.7 796.0,1177.0 808.9,1181.0 C821.8,1185.0 839.8,1184.6 850.0,1185.8 C860.2,1187.0 866.7,1187.6 870.0,1188.0" fill="none" stroke="#000" stroke-width="1.38" stroke-linejoin="round" />
<path d="M724.0,1099.0 C724.8,1099.8 725.7,1096.8 729.0,1103.6 C732.3,1110.4 737.1,1129.3 743.6,1139.8 C750.1,1150.3 757.6,1158.8 767.7,1166.5 C777.8,1174.2 790.7,1181.6 804.0,1185.8 C817.3,1190.0 840.3,1190.9 847.6,1191.9" fill="none" stroke="#000" stroke-width="1.15" stroke-linejoin="round" />
<path d="M719.4,1176.8 C720.7,1180.6 722.3,1192.4 727.4,1199.4 C732.5,1206.4 739.8,1213.3 750.0,1218.7 C760.2,1224.1 771.5,1228.6 788.7,1231.6 C805.9,1234.6 842.5,1235.7 853.2,1236.5" fill="none" stroke="#000" stroke-width="1.15" stroke-linejoin="round" />
<path d="M723,1098.7 L723,1154.4" fill="none" stroke="#000" stroke-width="1.38" stroke-linejoin="round" />
<path d="M676,1080 L706,1095 M664.5,1138 L717.7,1170.3" fill="none" stroke="#000" stroke-width="1.49" stroke-linejoin="round" />
<path d="M667,1140 L713,1167" fill="none" stroke="#999" stroke-width="0.92" stroke-linejoin="round" />
<ellipse cx="687.1" cy="1118.7" rx="1.7" ry="1.9" transform="rotate(0 687.1 1118.7)" fill="#fff" stroke="#666" stroke-width="0.92"/>
<ellipse cx="685.5" cy="1128.4" rx="1.7" ry="1.9" transform="rotate(0 685.5 1128.4)" fill="#fff" stroke="#666" stroke-width="0.92"/>
<ellipse cx="695.2" cy="1127.7" rx="1.7" ry="1.9" transform="rotate(0 695.2 1127.7)" fill="#fff" stroke="#666" stroke-width="0.92"/>
<ellipse cx="693.5" cy="1136.5" rx="1.7" ry="1.9" transform="rotate(0 693.5 1136.5)" fill="#fff" stroke="#666" stroke-width="0.92"/>
<ellipse cx="684.8" cy="1138.0" rx="1.7" ry="1.9" transform="rotate(0 684.8 1138.0)" fill="#fff" stroke="#666" stroke-width="0.92"/>
<path d="M856.5,1183.2 L856.5,1241.3" fill="none" stroke="#000" stroke-width="1.49" stroke-linejoin="round" />
<path d="M861,1189 L917.7,1228.4 L924,1250" fill="none" stroke="#000" stroke-width="1.38" stroke-linejoin="round" />
<path d="M863,1186 L880,1191" fill="none" stroke="#000" stroke-width="1.15" stroke-linejoin="round" />
<ellipse cx="875.0" cy="1217.0" rx="1.7" ry="1.9" transform="rotate(0 875.0 1217.0)" fill="#fff" stroke="#666" stroke-width="0.92"/>
<ellipse cx="874.0" cy="1227.0" rx="1.7" ry="1.9" transform="rotate(0 874.0 1227.0)" fill="#fff" stroke="#666" stroke-width="0.92"/>
<ellipse cx="883.0" cy="1226.0" rx="1.7" ry="1.9" transform="rotate(0 883.0 1226.0)" fill="#fff" stroke="#666" stroke-width="0.92"/>
<ellipse cx="882.0" cy="1235.0" rx="1.7" ry="1.9" transform="rotate(0 882.0 1235.0)" fill="#fff" stroke="#666" stroke-width="0.92"/>
<ellipse cx="873.0" cy="1236.0" rx="1.7" ry="1.9" transform="rotate(0 873.0 1236.0)" fill="#fff" stroke="#666" stroke-width="0.92"/>
<path d="M901.6,1215.5 Q960,1190 1027.4,1167.1" fill="none" stroke="#000" stroke-width="1.15" stroke-linejoin="round" />
<path d="M911.3,1247.7 L1037,1186.5" fill="none" stroke="#000" stroke-width="1.15" stroke-linejoin="round" />
<path d="M924.2,1228.4 Q980,1205 1037,1186.5" fill="none" stroke="#000" stroke-width="0.92" stroke-linejoin="round" />
<ellipse cx="860.0" cy="1119.0" rx="61.0" ry="37.5" transform="rotate(0 860.0 1119.0)" fill="none" stroke="#000" stroke-width="1.49"/>
<ellipse cx="860.0" cy="1117.0" rx="43.0" ry="25.5" transform="rotate(0 860.0 1117.0)" fill="none" stroke="#000" stroke-width="1.38"/>
<path d="M820,1110 Q835,1094 860,1094" fill="none" stroke="#000" stroke-width="0.92" stroke-linejoin="round" />
<g transform="rotate(-35 900.4 1095.8)"><rect x="891.4" y="1090.3" width="18" height="11" fill="#fff" stroke="#000" stroke-width="1.1"/><ellipse cx="900.4" cy="1095.8" rx="3.2" ry="2.2" fill="#fff" stroke="#000" stroke-width="1.1"/></g>
<g transform="rotate(0 808.7 1119.8)"><rect x="799.7" y="1114.3" width="18" height="11" fill="#fff" stroke="#000" stroke-width="1.1"/><ellipse cx="808.7" cy="1119.8" rx="3.2" ry="2.2" fill="#fff" stroke="#000" stroke-width="1.1"/></g>
<g transform="rotate(0 866.5 1144.7)"><rect x="857.5" y="1139.2" width="18" height="11" fill="#fff" stroke="#000" stroke-width="1.1"/><ellipse cx="866.5" cy="1144.7" rx="3.2" ry="2.2" fill="#fff" stroke="#000" stroke-width="1.1"/></g>
<path d="M807.1,965.2 L811.0,953.5 L814.8,950.6 L822.6,953.5 L853.5,986.4 L854.5,1006.8 L850.6,1009.7 L845.8,1010.6 L807.1,982.6Z" fill="#fff" stroke="#000" stroke-width="1.84" stroke-linejoin="round" />
<path d="M826,957 L851,985 L852,1005" fill="none" stroke="#000" stroke-width="1.15" stroke-linejoin="round" />
<ellipse cx="812.9" cy="971.9" rx="4.5" ry="5.0" transform="rotate(0 812.9 971.9)" fill="#fff" stroke="#000" stroke-width="1.38"/>
<ellipse cx="812.9" cy="971.9" rx="1.8" ry="2.0" transform="rotate(0 812.9 971.9)" fill="#fff" stroke="#000" stroke-width="1.15"/>
<path d="M833,980 L836,987 L833,994 L830,987Z" fill="#fff" stroke="#000" stroke-width="1.26" stroke-linejoin="round" />
<path d="M818,959 l3,-2 l2,3 l-3,2z" fill="#fff" stroke="#000" stroke-width="1.15" stroke-linejoin="round" />
<ellipse cx="844.8" cy="987.4" rx="2.2" ry="2.4" transform="rotate(0 844.8 987.4)" fill="#fff" stroke="#000" stroke-width="1.15"/>
<path d="M685.2,1036.8 L690.0,1036.0 L695.8,1043.0 L707.4,1073.5 L715.2,1091.0 L716.1,1094.8 L706.5,1092.9 L674.5,1073.5 L675.5,1048.4 L680.0,1040.0Z" fill="#fff" stroke="#000" stroke-width="1.84" stroke-linejoin="round" />
<ellipse cx="679.4" cy="1061.9" rx="3.8" ry="4.2" transform="rotate(0 679.4 1061.9)" fill="#fff" stroke="#000" stroke-width="1.38"/>
<ellipse cx="679.4" cy="1061.9" rx="1.6" ry="1.8" transform="rotate(0 679.4 1061.9)" fill="#fff" stroke="#000" stroke-width="1.15"/>
<path d="M689,1066 L692,1071.6 L689,1077 L686,1071.6Z" fill="#fff" stroke="#000" stroke-width="1.26" stroke-linejoin="round" />
<path d="M682,1047 l3,-2 l2,3 l-3,2z" fill="#fff" stroke="#000" stroke-width="1.15" stroke-linejoin="round" />
<ellipse cx="696.8" cy="1073.5" rx="2.2" ry="2.4" transform="rotate(0 696.8 1073.5)" fill="#fff" stroke="#000" stroke-width="1.15"/>
<path d="M694,1045 L705,1071 L712,1090" fill="none" stroke="#000" stroke-width="1.15" stroke-linejoin="round" />
<path d="M982.6,590.0 L982.6,736.5 L857.0,832.4 L857.0,1285.0 L964.0,1339.0 L964.0,1530.0" fill="none" stroke="#888" stroke-width="1.2" stroke-dasharray="10,6"/>
<line x1="887.0" y1="992.0" x2="887.0" y2="1113.0" stroke="#999" stroke-width="1.2"/>
<rect x="884.5" y="967" width="5" height="24" rx="2" fill="#fff" stroke="#000" stroke-width="1.2"/>
<line x1="884.8" y1="970.0" x2="889.2" y2="971.5" stroke="#444" stroke-width="0.8"/>
<line x1="884.8" y1="973.0" x2="889.2" y2="974.5" stroke="#444" stroke-width="0.8"/>
<line x1="884.8" y1="976.0" x2="889.2" y2="977.5" stroke="#444" stroke-width="0.8"/>
<line x1="884.8" y1="979.0" x2="889.2" y2="980.5" stroke="#444" stroke-width="0.8"/>
<line x1="884.8" y1="982.0" x2="889.2" y2="983.5" stroke="#444" stroke-width="0.8"/>
<line x1="884.8" y1="985.0" x2="889.2" y2="986.5" stroke="#444" stroke-width="0.8"/>
<line x1="884.8" y1="988.0" x2="889.2" y2="989.5" stroke="#444" stroke-width="0.8"/>
<path d="M882,958.5 L884.5,956 L890,956 L892.5,958.5 L892.5,963.5 L882,963.5Z" fill="#fff" stroke="#000" stroke-width="1.38" stroke-linejoin="round" />
<ellipse cx="887.2" cy="965.0" rx="6.5" ry="2.0" transform="rotate(0 887.2 965.0)" fill="#fff" stroke="#000" stroke-width="1.38"/>
<path d="M887.2,956 L887.2,963.5" fill="none" stroke="#000" stroke-width="0.92" stroke-linejoin="round" />
<path d="M879.5,1115 L883,1112 L890,1112 L893,1115 L893,1123 L890,1126 L883,1126 L879.5,1123Z" fill="#fff" stroke="#000" stroke-width="1.38" stroke-linejoin="round" />
<ellipse cx="886.0" cy="1116.0" rx="4.5" ry="3.0" transform="rotate(0 886.0 1116.0)" fill="#999" stroke="#000" stroke-width="1.26"/>
<path d="M870.2,884.5 L1026.5,787.2" stroke="#000" stroke-width="6.5" stroke-linecap="round" fill="none"/>
<path d="M870.2,884.5 L1026.5,787.2" stroke="#d0d0d0" stroke-width="2.6" stroke-linecap="round" fill="none"/>
<ellipse cx="870.5" cy="884.3" rx="2.6" ry="3.4" transform="rotate(-30 870.5 884.3)" fill="#ddd" stroke="#000" stroke-width="1.26"/>
<ellipse cx="936.0" cy="838.5" rx="3.2" ry="7.0" transform="rotate(-30 936.0 838.5)" fill="#fff" stroke="#999" stroke-width="1.26"/>
<ellipse cx="940.9" cy="835.6" rx="3.2" ry="7.0" transform="rotate(-30 940.9 835.6)" fill="#fff" stroke="#999" stroke-width="1.26"/>
<ellipse cx="945.7" cy="832.6" rx="3.2" ry="7.0" transform="rotate(-30 945.7 832.6)" fill="#fff" stroke="#999" stroke-width="1.26"/>
<ellipse cx="950.6" cy="829.7" rx="3.2" ry="7.0" transform="rotate(-30 950.6 829.7)" fill="#fff" stroke="#999" stroke-width="1.26"/>
<ellipse cx="955.4" cy="826.8" rx="3.2" ry="7.0" transform="rotate(-30 955.4 826.8)" fill="#fff" stroke="#999" stroke-width="1.26"/>
<ellipse cx="960.3" cy="823.9" rx="3.2" ry="7.0" transform="rotate(-30 960.3 823.9)" fill="#fff" stroke="#999" stroke-width="1.26"/>
<ellipse cx="965.1" cy="820.9" rx="3.2" ry="7.0" transform="rotate(-30 965.1 820.9)" fill="#fff" stroke="#999" stroke-width="1.26"/>
<ellipse cx="970.0" cy="818.0" rx="3.2" ry="7.0" transform="rotate(-30 970.0 818.0)" fill="#fff" stroke="#999" stroke-width="1.26"/>
<path d="M938,845 L933,851 L942,852 L950,847 L952,851" fill="none" stroke="#aaa" stroke-width="1.26" stroke-linejoin="round" />
<path d="M968,823 L974,827 L970,832 L965,829" fill="none" stroke="#aaa" stroke-width="1.26" stroke-linejoin="round" />
<ellipse cx="1041.5" cy="779.8" rx="6.0" ry="7.5" transform="rotate(-20 1041.5 779.8)" fill="#777" stroke="#000" stroke-width="1.72"/>
<ellipse cx="1041.5" cy="779.8" rx="3.0" ry="4.0" transform="rotate(-20 1041.5 779.8)" fill="#ccc" stroke="#000" stroke-width="1.26"/>
<path d="M952,1381.5 L949.7,1402.9 L948.9,1414 Q962,1423 975.7,1414 L975.7,1404.4 L972.7,1381.5 Q962,1372 952,1381.5Z" fill="#fff" stroke="#000" stroke-width="1.72" stroke-linejoin="round" />
<path d="M949.7,1402.9 Q962,1410 975.7,1404.4" fill="none" stroke="#000" stroke-width="1.49" stroke-linejoin="round" />
<ellipse cx="962.3" cy="1379.5" rx="9.8" ry="4.5" transform="rotate(0 962.3 1379.5)" fill="#fff" stroke="#000" stroke-width="1.61"/>
<ellipse cx="962.0" cy="1379.8" rx="4.2" ry="2.2" transform="rotate(0 962.0 1379.8)" fill="#fff" stroke="#000" stroke-width="1.38"/>
<path d="M955,1383 L953.5,1404 M969.5,1383 L971.5,1405" fill="none" stroke="#000" stroke-width="1.26" stroke-linejoin="round" />
<path d="M962.3,1384 L962.3,1407" stroke="#000" stroke-width="2.2"/>
<path d="M958,1384 L957.5,1406 M966.5,1384 L967,1406" fill="none" stroke="#666" stroke-width="0.92" stroke-linejoin="round" />
<path d="M991.5,1370.5 Q985.5,1371 985.8,1376.2 Q986,1381.5 991.5,1382 Z" fill="#fff" stroke="#000" stroke-width="1.49" stroke-linejoin="round" />
<path d="M990,1371.5 L990,1381" fill="none" stroke="#777" stroke-width="0.92" stroke-linejoin="round" />
<path d="M883.0,1427.4 L883.8,1433.6 L903.7,1438.9 L908.3,1441.2 L916.0,1439.7 L945.1,1456.5 L995.7,1473.4 L1000.2,1478.0 L1032.4,1488.7 L1037.0,1485.6 L1043.2,1471.9 L1040.1,1465.7 L1024.8,1461.1 L1021.7,1467.3 L1015.6,1467.3 L983.4,1446.6 L935.9,1430.5 L928.2,1431.3 L903.7,1421.3 L893.0,1426.7 L883.8,1426.7Z" fill="#fff" stroke="#000" stroke-width="1.72" stroke-linejoin="round" />
<path d="M903.7,1421.3 L920.6,1429" fill="none" stroke="#111" stroke-width="3.22" stroke-linejoin="round" />
<path d="M1007.9,1478.8 L1032.4,1487.2" fill="none" stroke="#111" stroke-width="3.22" stroke-linejoin="round" />
<path d="M886,1430.5 L903,1434 L910,1438 L917,1436.5 L946,1452.5 L996,1469 L1001,1474" fill="none" stroke="#555" stroke-width="1.03" stroke-linejoin="round" />
<path d="M920,1436 L928,1433 M1002,1474 L1010,1469 M1023,1463.5 L1035,1467" fill="none" stroke="#333" stroke-width="1.03" stroke-linejoin="round" />
<ellipse cx="964.2" cy="1450.4" rx="5.0" ry="2.6" transform="rotate(0 964.2 1450.4)" fill="#fff" stroke="#000" stroke-width="1.49"/>
<ellipse cx="963.5" cy="1486.5" rx="12.3" ry="6.5" transform="rotate(0 963.5 1486.5)" fill="#fff" stroke="#000" stroke-width="1.72"/>
<ellipse cx="963.5" cy="1484.9" rx="12.3" ry="6.5" transform="rotate(0 963.5 1484.9)" fill="#fff" stroke="#000" stroke-width="1.72"/>
<ellipse cx="963.5" cy="1484.9" rx="7.0" ry="3.5" transform="rotate(0 963.5 1484.9)" fill="#fff" stroke="#000" stroke-width="1.38"/>
<ellipse cx="964.0" cy="1513.3" rx="7.2" ry="3.6" transform="rotate(0 964.0 1513.3)" fill="#666" stroke="#000" stroke-width="1.72"/>
<ellipse cx="964.0" cy="1513.3" rx="3.5" ry="1.7" transform="rotate(0 964.0 1513.3)" fill="#ddd" stroke="#000" stroke-width="1.15"/>
<rect x="961" y="1525.5" width="6.5" height="33" fill="#fff" stroke="#000" stroke-width="1.2"/>
<line x1="964.2" y1="1527.0" x2="964.2" y2="1545.0" stroke="#888" stroke-width="0.8"/>
<path d="M955,1560 L959,1556 L970,1556 L974,1560 L974,1569 L970,1572 L959,1572 L955,1569Z" fill="#fff" stroke="#000" stroke-width="1.49" stroke-linejoin="round" />
<path d="M955,1560 L974,1560 M964,1556 L964,1572" fill="none" stroke="#000" stroke-width="1.03" stroke-linejoin="round" />
<path d="M950.5,1267 L953,1264 L960,1264 L962.5,1267 L962.5,1274.5 L960,1277.5 L953,1277.5 L950.5,1274.5Z" fill="#fff" stroke="#000" stroke-width="1.38" stroke-linejoin="round" />
<ellipse cx="955.5" cy="1270.8" rx="4.0" ry="5.0" transform="rotate(0 955.5 1270.8)" fill="#999" stroke="#000" stroke-width="1.15"/>
<ellipse cx="934.8" cy="1283.7" rx="6.0" ry="7.0" transform="rotate(0 934.8 1283.7)" fill="#eee" stroke="#999" stroke-width="1.49"/>
<ellipse cx="934.8" cy="1283.7" rx="2.8" ry="3.4" transform="rotate(0 934.8 1283.7)" fill="#fff" stroke="#999" stroke-width="1.15"/>
<path d="M222.0,1388.0 L247.0,1373.0" fill="none" stroke="#777" stroke-width="1.2" stroke-dasharray="9,6"/>
<path d="M268.0,1361.0 L282.0,1352.0" fill="none" stroke="#777" stroke-width="1.2" stroke-dasharray="9,6"/>
<path d="M293.0,1345.0 L300.0,1341.0" fill="none" stroke="#777" stroke-width="1.2" stroke-dasharray="9,6"/>
<path d="M372.0,1294.0 L392.0,1282.0" fill="none" stroke="#777" stroke-width="1.2" stroke-dasharray="9,6"/>
<path d="M404.0,1276.0 L407.0,1274.0" fill="none" stroke="#777" stroke-width="1.2" stroke-dasharray="9,6"/>
<path d="M420.0,1266.0 L487.0,1229.0" fill="none" stroke="#777" stroke-width="1.2" stroke-dasharray="9,6"/>
<path d="M492.0,1226.0 L524.5,1201.0" fill="none" stroke="#777" stroke-width="1.2" stroke-dasharray="9,6"/>
<path d="M476.0,1262.0 L497.0,1250.0" fill="none" stroke="#777" stroke-width="1.2" stroke-dasharray="9,6"/>
<path d="M503.0,1247.0 L600.0,1189.0" fill="none" stroke="#777" stroke-width="1.2" stroke-dasharray="9,6"/>
<path d="M612.0,1181.0 L626.0,1174.0" fill="none" stroke="#777" stroke-width="1.2" stroke-dasharray="9,6"/>
<path d="M640.0,1165.0 L683.7,1137.0" fill="none" stroke="#777" stroke-width="1.2" stroke-dasharray="9,6"/>
<ellipse cx="218.6" cy="1390.2" rx="4.5" ry="5.5" transform="rotate(0 218.6 1390.2)" fill="#fff" stroke="#000" stroke-width="1.38"/>
<ellipse cx="255.0" cy="1368.7" rx="26.6" ry="32.1" transform="rotate(-8 255.0 1368.7)" fill="#e4e4e4" stroke="#222" stroke-width="1.49"/>
<ellipse cx="255.3" cy="1368.7" rx="23.9" ry="28.9" transform="rotate(-8 255.3 1368.7)" fill="#fff" stroke="#222" stroke-width="1.26"/>
<path d="M263.8,1373.2 Q270.9,1369.7 277.5,1373.6 Q276.2,1382.0 271.3,1388.1 Q268.4,1382.3 263.8,1373.2Z" fill="#fff" stroke="#111" stroke-width="1.5"/>
<path d="M263.8,1373.2 Q268.4,1382.3 271.3,1388.1" fill="none" stroke="#777" stroke-width="1.4"/>
<path d="M256.2,1380.2 Q262.3,1385.8 262.7,1394.7 Q256.0,1397.6 249.2,1395.4 Q251.9,1389.6 256.2,1380.2Z" fill="#fff" stroke="#111" stroke-width="1.5"/>
<path d="M256.2,1380.2 Q251.9,1389.6 249.2,1395.4" fill="none" stroke="#777" stroke-width="1.4"/>
<path d="M247.4,1375.7 Q246.3,1384.9 240.2,1389.8 Q234.8,1384.2 232.9,1376.0 Q238.5,1375.9 247.4,1375.7Z" fill="#fff" stroke="#111" stroke-width="1.5"/>
<path d="M247.4,1375.7 Q238.5,1375.9 232.9,1376.0" fill="none" stroke="#777" stroke-width="1.4"/>
<path d="M246.2,1364.2 Q239.1,1367.7 232.5,1363.8 Q233.8,1355.4 238.7,1349.3 Q241.6,1355.1 246.2,1364.2Z" fill="#fff" stroke="#111" stroke-width="1.5"/>
<path d="M246.2,1364.2 Q241.6,1355.1 238.7,1349.3" fill="none" stroke="#777" stroke-width="1.4"/>
<path d="M253.8,1357.2 Q247.7,1351.6 247.3,1342.7 Q254.0,1339.8 260.8,1342.0 Q258.1,1347.8 253.8,1357.2Z" fill="#fff" stroke="#111" stroke-width="1.5"/>
<path d="M253.8,1357.2 Q258.1,1347.8 260.8,1342.0" fill="none" stroke="#777" stroke-width="1.4"/>
<path d="M262.6,1361.7 Q263.7,1352.5 269.8,1347.6 Q275.2,1353.2 277.1,1361.4 Q271.5,1361.5 262.6,1361.7Z" fill="#fff" stroke="#111" stroke-width="1.5"/>
<path d="M262.6,1361.7 Q271.5,1361.5 277.1,1361.4" fill="none" stroke="#777" stroke-width="1.4"/>
<ellipse cx="255.0" cy="1368.7" rx="5.9" ry="7.1" transform="rotate(-8 255.0 1368.7)" fill="#999" stroke="#000" stroke-width="1.26"/>
<ellipse cx="255.0" cy="1368.7" rx="2.7" ry="3.2" transform="rotate(-8 255.0 1368.7)" fill="#ccc" stroke="#000" stroke-width="0.92"/>
<path d="M285,1341 L292,1339.5 Q296,1342 296,1347 Q295.5,1352.5 292,1354.5 L285,1355Z" fill="#fff" stroke="#000" stroke-width="1.38" stroke-linejoin="round" />
<path d="M289,1340 L289.5,1354.5 M292.5,1340 L293,1354" fill="none" stroke="#000" stroke-width="0.92" stroke-linejoin="round" />
<ellipse cx="285.0" cy="1348.0" rx="4.3" ry="7.0" transform="rotate(0 285.0 1348.0)" fill="#bbb" stroke="#000" stroke-width="1.38"/>
<ellipse cx="304.7" cy="1337.8" rx="6.5" ry="8.5" transform="rotate(-10 304.7 1337.8)" fill="#d4d4d4" stroke="#000" stroke-width="1.72"/>
<ellipse cx="304.2" cy="1337.8" rx="3.6" ry="4.7" transform="rotate(-10 304.2 1337.8)" fill="#fff" stroke="#000" stroke-width="1.26"/>
<ellipse cx="304.2" cy="1337.8" rx="1.9" ry="2.5" transform="rotate(-10 304.2 1337.8)" fill="#aaa" stroke="#000" stroke-width="1.03"/>
<path d="M309.7,1305.2 L309.8,1302.4 L310.0,1299.6 L310.3,1296.8 L310.7,1294.1 L311.3,1291.5 L311.9,1289.0 L312.7,1286.6 L313.6,1284.3 L314.7,1282.1 L315.8,1280.0 L317.0,1278.1 L318.3,1276.3 L319.7,1274.6 L321.2,1273.1 L322.8,1271.8 L324.4,1270.7 L326.1,1269.7 L327.9,1268.9 L329.7,1268.3 L331.6,1267.9 L333.5,1267.6 L354.5,1265.6 L356.4,1265.6 L358.3,1265.7 L360.2,1266.1 L362.2,1266.6 L364.1,1267.3 L366.0,1268.2 L367.9,1269.2 L369.7,1270.5 L371.6,1271.9 L373.3,1273.4 L375.0,1275.2 L376.7,1277.0 L378.3,1279.0 L379.8,1281.2 L381.2,1283.4 L382.5,1285.8 L383.7,1288.3 L384.9,1290.8 L385.9,1293.5 L386.8,1296.2 L387.6,1299.0 L388.3,1301.8 L388.9,1304.7 L389.3,1307.5 L389.6,1310.4 L389.8,1313.3 L389.9,1316.2 L389.8,1319.0 L389.6,1321.8 L389.3,1324.6 L388.9,1327.3 L388.3,1329.9 L387.7,1332.4 L386.9,1334.8 L386.0,1337.1 L384.9,1339.3 L383.8,1341.4 L382.6,1343.3 L381.3,1345.1 L379.9,1346.8 L378.4,1348.3 L376.8,1349.6 L375.2,1350.7 L373.5,1351.7 L371.7,1352.5 L369.9,1353.1 L368.0,1353.5 L366.1,1353.8 L345.1,1355.8 L343.2,1355.8 L341.3,1355.7 L339.4,1355.3 L337.4,1354.8 L335.5,1354.1 L333.6,1353.2 L331.7,1352.2 L329.9,1350.9 L328.0,1349.5 L326.3,1348.0 L324.6,1346.2 L322.9,1344.4 L321.3,1342.4 L319.8,1340.2 L318.4,1338.0 L317.1,1335.6 L315.9,1333.1 L314.7,1330.6 L313.7,1327.9 L312.8,1325.2 L312.0,1322.4 L311.3,1319.6 L310.7,1316.7 L310.3,1313.9 L310.0,1311.0 L309.8,1308.1Z" fill="#ececec" stroke="#000" stroke-width="2.76" stroke-linejoin="round" />
<line x1="367.9" y1="1306.7" x2="388.9" y2="1304.7" stroke="#333" stroke-width="1.7"/>
<line x1="368.9" y1="1318.2" x2="389.9" y2="1316.2" stroke="#333" stroke-width="1.7"/>
<line x1="367.9" y1="1329.3" x2="388.9" y2="1327.3" stroke="#333" stroke-width="1.7"/>
<line x1="365.0" y1="1339.1" x2="386.0" y2="1337.1" stroke="#333" stroke-width="1.7"/>
<line x1="360.3" y1="1347.1" x2="381.3" y2="1345.1" stroke="#333" stroke-width="1.7"/>
<line x1="354.2" y1="1352.7" x2="375.2" y2="1350.7" stroke="#333" stroke-width="1.7"/>
<line x1="346.9" y1="1271.2" x2="367.9" y2="1269.2" stroke="#333" stroke-width="1.7"/>
<line x1="354.0" y1="1277.2" x2="375.0" y2="1275.2" stroke="#333" stroke-width="1.7"/>
<line x1="360.2" y1="1285.4" x2="381.2" y2="1283.4" stroke="#333" stroke-width="1.7"/>
<line x1="364.9" y1="1295.5" x2="385.9" y2="1293.5" stroke="#333" stroke-width="1.7"/>
<path d="M378.4,1305.7 L378.8,1308.5 L379.1,1311.4 L379.3,1314.3 L379.4,1317.2 L379.3,1320.0 L379.1,1322.8 L378.8,1325.6 L378.4,1328.3 L377.8,1330.9 L377.2,1333.4 L376.4,1335.8 L375.5,1338.1 L374.4,1340.3 L373.3,1342.4 L372.1,1344.3 L370.8,1346.1 L369.4,1347.8 L367.9,1349.3 L366.3,1350.6 L364.7,1351.7 L363.0,1352.7 L361.2,1353.5 L359.4,1354.1 L357.5,1354.5 L355.6,1354.8 L345.9,1266.6 L347.8,1266.7 L349.7,1267.1 L351.7,1267.6 L353.6,1268.3 L355.5,1269.2 L357.4,1270.2 L359.2,1271.5 L361.1,1272.9 L362.8,1274.4 L364.5,1276.2 L366.2,1278.0 L367.8,1280.0 L369.3,1282.2 L370.7,1284.4 L372.0,1286.8 L373.2,1289.3 L374.4,1291.8 L375.4,1294.5 L376.3,1297.2 L377.1,1300.0 L377.8,1302.8" fill="none" stroke="#777" stroke-width="0.9"/>
<ellipse cx="339.3" cy="1311.7" rx="29.0" ry="44.5" transform="rotate(-10 339.3 1311.7)" fill="#fff" stroke="#000" stroke-width="2.99"/>
<ellipse cx="340.8" cy="1311.7" rx="23.2" ry="35.6" transform="rotate(-10 340.8 1311.7)" fill="none" stroke="#8a8a8a" stroke-width="1.38"/>
<ellipse cx="342.3" cy="1310.7" rx="8.7" ry="13.3" transform="rotate(-10 342.3 1310.7)" fill="none" stroke="#8a8a8a" stroke-width="1.26"/>
<ellipse cx="342.3" cy="1310.7" rx="3.5" ry="5.3" transform="rotate(-10 342.3 1310.7)" fill="none" stroke="#8a8a8a" stroke-width="1.15"/>
<line x1="350.6" y1="1314.6" x2="361.2" y2="1328.8" stroke="#888" stroke-width="1.2"/>
<line x1="350.6" y1="1314.6" x2="357.8" y2="1336.0" stroke="#999" stroke-width="1"/>
<line x1="345.5" y1="1323.1" x2="344.8" y2="1346.8" stroke="#888" stroke-width="1.2"/>
<line x1="345.5" y1="1323.1" x2="339.0" y2="1347.2" stroke="#999" stroke-width="1"/>
<line x1="337.9" y1="1322.3" x2="325.4" y2="1338.4" stroke="#888" stroke-width="1.2"/>
<line x1="337.9" y1="1322.3" x2="321.6" y2="1331.7" stroke="#999" stroke-width="1"/>
<line x1="333.7" y1="1312.7" x2="317.6" y2="1309.9" stroke="#888" stroke-width="1.2"/>
<line x1="333.7" y1="1312.7" x2="318.6" y2="1301.1" stroke="#999" stroke-width="1"/>
<line x1="335.9" y1="1301.6" x2="327.3" y2="1282.8" stroke="#888" stroke-width="1.2"/>
<line x1="335.9" y1="1301.6" x2="332.4" y2="1278.5" stroke="#999" stroke-width="1"/>
<line x1="343.0" y1="1297.4" x2="347.1" y2="1277.4" stroke="#888" stroke-width="1.2"/>
<line x1="343.0" y1="1297.4" x2="352.4" y2="1280.9" stroke="#999" stroke-width="1"/>
<line x1="349.5" y1="1303.2" x2="362.2" y2="1297.9" stroke="#888" stroke-width="1.2"/>
<line x1="349.5" y1="1303.2" x2="363.7" y2="1306.5" stroke="#999" stroke-width="1"/>
<ellipse cx="398.0" cy="1279.0" rx="6.5" ry="8.0" transform="rotate(-10 398.0 1279.0)" fill="#d4d4d4" stroke="#000" stroke-width="1.72"/>
<ellipse cx="397.5" cy="1279.0" rx="3.6" ry="4.4" transform="rotate(-10 397.5 1279.0)" fill="#fff" stroke="#000" stroke-width="1.26"/>
<ellipse cx="397.5" cy="1279.0" rx="1.9" ry="2.4" transform="rotate(-10 397.5 1279.0)" fill="#aaa" stroke="#000" stroke-width="1.03"/>
<ellipse cx="413.5" cy="1268.7" rx="6.5" ry="8.0" transform="rotate(-10 413.5 1268.7)" fill="#d4d4d4" stroke="#000" stroke-width="1.72"/>
<ellipse cx="413.0" cy="1268.7" rx="3.6" ry="4.4" transform="rotate(-10 413.0 1268.7)" fill="#fff" stroke="#000" stroke-width="1.26"/>
<ellipse cx="413.0" cy="1268.7" rx="1.9" ry="2.4" transform="rotate(-10 413.0 1268.7)" fill="#aaa" stroke="#000" stroke-width="1.03"/>
<g transform="translate(474.2,1264.8) rotate(146.5)">
<rect x="0" y="-2.5" width="26.6" height="5.0" rx="2.5" fill="#fff" stroke="#000" stroke-width="1.2"/>
<line x1="3.0" y1="-1.9" x2="4.2" y2="1.9" stroke="#555" stroke-width="0.9"/>
<line x1="5.6" y1="-1.9" x2="6.8" y2="1.9" stroke="#555" stroke-width="0.9"/>
<line x1="8.2" y1="-1.9" x2="9.4" y2="1.9" stroke="#555" stroke-width="0.9"/>
<line x1="10.8" y1="-1.9" x2="12.0" y2="1.9" stroke="#555" stroke-width="0.9"/>
<line x1="13.4" y1="-1.9" x2="14.6" y2="1.9" stroke="#555" stroke-width="0.9"/>
<line x1="16.0" y1="-1.9" x2="17.2" y2="1.9" stroke="#555" stroke-width="0.9"/>
<line x1="18.6" y1="-1.9" x2="19.8" y2="1.9" stroke="#555" stroke-width="0.9"/>
<line x1="21.2" y1="-1.9" x2="22.4" y2="1.9" stroke="#555" stroke-width="0.9"/>
<ellipse cx="26.6" cy="0" rx="4.2" ry="7.0" fill="#fff" stroke="#000" stroke-width="1.3"/>
</g>
<path d="M443,1276 L447,1272 L455,1273 L458,1278 L456,1286 L449,1288 L443,1284Z" fill="#fff" stroke="#000" stroke-width="1.49" stroke-linejoin="round" />
<path d="M483.2,1132.0 L488.0,1130.0 L506.5,1141.0 L509.0,1150.0 L506.0,1158.0 L509.0,1165.5 L505.0,1167.0 L487.1,1159.0Z" fill="#f4f4f4" stroke="#000" stroke-width="1.61" stroke-linejoin="round" />
<path d="M485,1146 L507.5,1152" fill="none" stroke="#000" stroke-width="1.15" stroke-linejoin="round" />
<path d="M493.5,1172.3 C494.1,1171.3 499.2,1170.4 500.8,1171.3 C502.4,1172.2 505.9,1177.3 507.1,1179.7 C508.3,1182.1 511.3,1189.3 511.3,1192.2 C511.3,1195.1 507.3,1201.9 507.1,1204.8 C506.9,1207.7 508.5,1214.5 509.2,1217.4 C509.9,1220.3 513.0,1224.6 513.4,1230.0 C513.8,1235.4 513.0,1259.3 512.3,1263.5 C511.6,1267.7 510.0,1267.1 507.1,1265.6 C504.2,1264.1 489.5,1256.0 487.2,1250.9 C484.9,1245.8 486.7,1225.9 487.2,1221.6 C487.7,1217.3 490.4,1216.8 491.4,1214.3 C492.4,1211.8 494.7,1203.7 495.6,1200.6 C496.5,1197.5 498.7,1190.5 498.7,1188.1 C498.7,1185.7 496.2,1181.5 495.6,1179.7 C495.0,1177.9 492.9,1173.3 493.5,1172.3Z" fill="#fff" stroke="#000" stroke-width="1.61" stroke-linejoin="round" />
<path d="M487.2,1225.8 L507.1,1234.2" fill="none" stroke="#000" stroke-width="1.15" stroke-linejoin="round" />
<path d="M500,1176 Q506,1188 502,1203 Q503,1215 507,1228" fill="none" stroke="#666" stroke-width="1.03" stroke-linejoin="round" />
<ellipse cx="498.7" cy="1248.8" rx="3.8" ry="5.0" transform="rotate(-10 498.7 1248.8)" fill="#fff" stroke="#000" stroke-width="1.49"/>
<ellipse cx="498.7" cy="1248.8" rx="1.8" ry="2.6" transform="rotate(-10 498.7 1248.8)" fill="#fff" stroke="#000" stroke-width="1.15"/>
<path d="M601.9,1121.9 Q606.0,1115.0 617.4,1114.8 Q634.0,1114.0 645.8,1125.8 Q652.5,1133.0 654.2,1140.0 L654.2,1147.7 L650.5,1150.5 L649.5,1155.0 L648.4,1174.8 Q645.0,1181.5 640.6,1183.0 Q636.0,1184.0 632.9,1183.0 Q626.0,1179.0 623.9,1172.3 L618.7,1158.1 L620.5,1133.0 L617.0,1127.5 L614.0,1128.0 L612.5,1124.5 L609.0,1125.0 L607.0,1127.0 L603.5,1126.5Z" fill="#fff" stroke="#000" stroke-width="1.61" stroke-linejoin="round" />
<path d="M617.9,1118.9 L622.7,1118.1 L623.5,1122.5 L618.7,1123.3Z" fill="#fff" stroke="#000" stroke-width="1.26" stroke-linejoin="round" />
<path d="M625.9,1120.4 L630.7,1119.6 L631.5,1124.0 L626.7,1124.8Z" fill="#fff" stroke="#000" stroke-width="1.26" stroke-linejoin="round" />
<path d="M633.4,1124.9 L638.2,1124.1 L639.0,1128.5 L634.2,1129.3Z" fill="#fff" stroke="#000" stroke-width="1.26" stroke-linejoin="round" />
<path d="M640.4,1131.4 L645.2,1130.6 L646.0,1135.0 L641.2,1135.8Z" fill="#fff" stroke="#000" stroke-width="1.26" stroke-linejoin="round" />
<path d="M645.4,1138.9 L650.2,1138.1 L651.0,1142.5 L646.2,1143.3Z" fill="#fff" stroke="#000" stroke-width="1.26" stroke-linejoin="round" />
<path d="M629.5,1142.0 L633.0,1141.0 Q640.5,1141.5 639.5,1150.0 Q638.5,1156.0 636.0,1157.5 L632.5,1153.0 Z" fill="#000" stroke="#000" stroke-width="1.15" stroke-linejoin="round" />
<path d="M633.2,1145.0 Q636.5,1146.0 635.8,1150.5 L634.2,1151.0Z" fill="#fff" stroke="#fff" stroke-width="0.69" stroke-linejoin="round" />
<ellipse cx="632.3" cy="1165.8" rx="4.6" ry="6.3" transform="rotate(-15 632.3 1165.8)" fill="#fff" stroke="#000" stroke-width="1.61"/>
<ellipse cx="632.3" cy="1165.8" rx="7.0" ry="8.8" transform="rotate(-15 632.3 1165.8)" fill="none" stroke="#555" stroke-width="0.92"/>
<path d="M648.4,1148.0 L649.0,1172.0" fill="none" stroke="#555" stroke-width="2.07" stroke-linejoin="round" />
<path d="M532,1195 L563.5,1175.2" stroke="#000" stroke-width="8.6" stroke-linecap="butt"/><path d="M532,1195 L564,1175" stroke="#fff" stroke-width="5.6" stroke-linecap="butt"/>
<path d="M524.5,1200.3 L533,1194.8" stroke="#000" stroke-width="5.4" stroke-linecap="round"/><path d="M524.5,1200.3 L533.5,1194.5" stroke="#fff" stroke-width="2.8" stroke-linecap="round"/>
<path d="M530.5,1191.5 L534,1197.6" fill="none" stroke="#000" stroke-width="1.26" stroke-linejoin="round" />
<path d="M554.8,1161.9 L559.4,1157.4 L571,1163.9 L587.7,1163.2 L617.4,1176.1 L618.1,1203.2 L614.8,1205.2 L586.5,1190.3 L568.4,1189 L556.8,1183.9Z" fill="#fff" stroke="#000" stroke-width="1.61" stroke-linejoin="round" />
<path d="M559.4,1157.4 L568.4,1167.1 L582.6,1164.5 L587.7,1163.2 M568.4,1167.1 L568.4,1189 M582.6,1164.5 L582.6,1189.5 M614.8,1178 L614.8,1205.2" fill="none" stroke="#000" stroke-width="1.26" stroke-linejoin="round" />
<ellipse cx="584.5" cy="1169.7" rx="2.4" ry="2.6" transform="rotate(0 584.5 1169.7)" fill="#fff" stroke="#000" stroke-width="1.26"/>
<ellipse cx="583.9" cy="1188.4" rx="2.4" ry="2.6" transform="rotate(0 583.9 1188.4)" fill="#fff" stroke="#000" stroke-width="1.26"/>
<ellipse cx="609.7" cy="1180.6" rx="2.4" ry="2.6" transform="rotate(0 609.7 1180.6)" fill="#fff" stroke="#000" stroke-width="1.26"/>
<ellipse cx="608.4" cy="1197.4" rx="2.4" ry="2.6" transform="rotate(0 608.4 1197.4)" fill="#fff" stroke="#000" stroke-width="1.26"/>
<ellipse cx="601.3" cy="1185.8" rx="3.8" ry="4.8" transform="rotate(0 601.3 1185.8)" fill="#fff" stroke="#000" stroke-width="1.26"/>
<path d="M500.0,1509.0 L510.0,1503.0" fill="none" stroke="#777" stroke-width="1.2" stroke-dasharray="9,6"/>
<path d="M540.0,1487.0 L548.0,1482.0" fill="none" stroke="#777" stroke-width="1.2" stroke-dasharray="9,6"/>
<path d="M560.0,1474.0 L563.0,1472.0" fill="none" stroke="#777" stroke-width="1.2" stroke-dasharray="9,6"/>
<path d="M620.0,1434.0 L651.0,1418.0" fill="none" stroke="#777" stroke-width="1.2" stroke-dasharray="9,6"/>
<path d="M664.0,1411.0 L667.0,1409.0" fill="none" stroke="#777" stroke-width="1.2" stroke-dasharray="9,6"/>
<path d="M680.0,1401.0 L725.0,1372.0" fill="none" stroke="#777" stroke-width="1.2" stroke-dasharray="9,6"/>
<path d="M652.0,1377.0 L672.0,1365.0" fill="none" stroke="#777" stroke-width="1.2" stroke-dasharray="9,6"/>
<path d="M690.0,1354.0 L717.0,1335.0" fill="none" stroke="#777" stroke-width="1.2" stroke-dasharray="9,6"/>
<path d="M757.0,1307.0 L790.0,1290.0" fill="none" stroke="#777" stroke-width="1.2" stroke-dasharray="9,6"/>
<path d="M790.0,1290.0 L886.0,1231.0" fill="none" stroke="#777" stroke-width="1.2" stroke-dasharray="9,6"/>
<ellipse cx="497.0" cy="1511.0" rx="4.5" ry="5.5" transform="rotate(0 497.0 1511.0)" fill="#fff" stroke="#000" stroke-width="1.38"/>
<ellipse cx="525.0" cy="1494.5" rx="20.5" ry="24.6" transform="rotate(-8 525.0 1494.5)" fill="#e4e4e4" stroke="#222" stroke-width="1.49"/>
<ellipse cx="525.3" cy="1494.5" rx="18.4" ry="22.1" transform="rotate(-8 525.3 1494.5)" fill="#fff" stroke="#222" stroke-width="1.26"/>
<path d="M531.8,1497.9 Q537.3,1495.2 542.3,1498.3 Q541.4,1504.7 537.5,1509.4 Q535.3,1505.0 531.8,1497.9Z" fill="#fff" stroke="#111" stroke-width="1.5"/>
<path d="M531.8,1497.9 Q535.3,1505.0 537.5,1509.4" fill="none" stroke="#777" stroke-width="1.4"/>
<path d="M525.9,1503.3 Q530.6,1507.6 530.9,1514.4 Q525.8,1516.6 520.5,1515.0 Q522.6,1510.5 525.9,1503.3Z" fill="#fff" stroke="#111" stroke-width="1.5"/>
<path d="M525.9,1503.3 Q522.6,1510.5 520.5,1515.0" fill="none" stroke="#777" stroke-width="1.4"/>
<path d="M519.1,1499.8 Q518.3,1506.9 513.6,1510.6 Q509.4,1506.4 508.0,1500.1 Q512.3,1500.0 519.1,1499.8Z" fill="#fff" stroke="#111" stroke-width="1.5"/>
<path d="M519.1,1499.8 Q512.3,1500.0 508.0,1500.1" fill="none" stroke="#777" stroke-width="1.4"/>
<path d="M518.2,1491.1 Q512.7,1493.8 507.7,1490.7 Q508.6,1484.3 512.5,1479.6 Q514.7,1484.0 518.2,1491.1Z" fill="#fff" stroke="#111" stroke-width="1.5"/>
<path d="M518.2,1491.1 Q514.7,1484.0 512.5,1479.6" fill="none" stroke="#777" stroke-width="1.4"/>
<path d="M524.1,1485.7 Q519.4,1481.4 519.1,1474.6 Q524.2,1472.4 529.5,1474.0 Q527.4,1478.5 524.1,1485.7Z" fill="#fff" stroke="#111" stroke-width="1.5"/>
<path d="M524.1,1485.7 Q527.4,1478.5 529.5,1474.0" fill="none" stroke="#777" stroke-width="1.4"/>
<path d="M530.9,1489.2 Q531.7,1482.1 536.4,1478.4 Q540.6,1482.6 542.0,1488.9 Q537.7,1489.0 530.9,1489.2Z" fill="#fff" stroke="#111" stroke-width="1.5"/>
<path d="M530.9,1489.2 Q537.7,1489.0 542.0,1488.9" fill="none" stroke="#777" stroke-width="1.4"/>
<ellipse cx="525.0" cy="1494.5" rx="4.5" ry="5.4" transform="rotate(-8 525.0 1494.5)" fill="#999" stroke="#000" stroke-width="1.26"/>
<ellipse cx="525.0" cy="1494.5" rx="2.1" ry="2.5" transform="rotate(-8 525.0 1494.5)" fill="#ccc" stroke="#000" stroke-width="0.92"/>
<path d="M552,1470.5 L559,1469 Q563,1471.5 563,1476.5 Q562.5,1482 559,1484 L552,1484.5Z" fill="#fff" stroke="#000" stroke-width="1.38" stroke-linejoin="round" />
<path d="M556,1469.5 L556.5,1484 M559.5,1469.5 L560,1483.5" fill="none" stroke="#000" stroke-width="0.92" stroke-linejoin="round" />
<ellipse cx="552.0" cy="1477.5" rx="4.3" ry="7.0" transform="rotate(0 552.0 1477.5)" fill="#bbb" stroke="#000" stroke-width="1.38"/>
<ellipse cx="568.7" cy="1467.4" rx="6.5" ry="8.3" transform="rotate(-10 568.7 1467.4)" fill="#d4d4d4" stroke="#000" stroke-width="1.72"/>
<ellipse cx="568.2" cy="1467.4" rx="3.6" ry="4.6" transform="rotate(-10 568.2 1467.4)" fill="#fff" stroke="#000" stroke-width="1.26"/>
<ellipse cx="568.2" cy="1467.4" rx="1.9" ry="2.5" transform="rotate(-10 568.2 1467.4)" fill="#aaa" stroke="#000" stroke-width="1.03"/>
<path d="M571.5,1440.7 L571.6,1438.6 L571.7,1436.5 L572.0,1434.4 L572.3,1432.4 L572.8,1430.4 L573.4,1428.4 L574.0,1426.6 L574.8,1424.8 L575.6,1423.1 L576.6,1421.5 L577.6,1420.0 L578.7,1418.6 L579.9,1417.3 L581.1,1416.2 L582.4,1415.1 L583.8,1414.2 L585.2,1413.4 L586.7,1412.8 L588.2,1412.3 L589.7,1411.9 L605.7,1408.9 L607.3,1408.7 L608.9,1408.6 L610.5,1408.6 L612.1,1408.8 L613.7,1409.2 L615.3,1409.7 L616.9,1410.3 L618.4,1411.0 L620.0,1411.9 L621.5,1412.9 L623.0,1414.0 L624.4,1415.3 L625.7,1416.6 L627.1,1418.1 L628.3,1419.7 L629.5,1421.4 L630.6,1423.1 L631.6,1424.9 L632.5,1426.9 L633.4,1428.8 L634.2,1430.9 L634.8,1432.9 L635.4,1435.0 L635.9,1437.2 L636.2,1439.3 L636.5,1441.5 L636.6,1443.7 L636.7,1445.9 L636.6,1448.0 L636.5,1450.1 L636.2,1452.2 L635.9,1454.2 L635.4,1456.2 L634.8,1458.2 L634.2,1460.0 L633.4,1461.8 L632.6,1463.5 L631.6,1465.1 L630.6,1466.6 L629.5,1468.0 L628.3,1469.3 L627.1,1470.4 L625.8,1471.5 L624.4,1472.4 L623.0,1473.2 L621.5,1473.8 L620.0,1474.3 L618.5,1474.7 L602.5,1477.7 L600.9,1477.9 L599.3,1478.0 L597.7,1478.0 L596.1,1477.8 L594.5,1477.4 L592.9,1476.9 L591.3,1476.3 L589.8,1475.6 L588.2,1474.7 L586.7,1473.7 L585.2,1472.6 L583.8,1471.3 L582.5,1470.0 L581.1,1468.5 L579.9,1466.9 L578.7,1465.2 L577.6,1463.5 L576.6,1461.7 L575.7,1459.7 L574.8,1457.8 L574.0,1455.7 L573.4,1453.7 L572.8,1451.6 L572.3,1449.4 L572.0,1447.3 L571.7,1445.1 L571.6,1442.9Z" fill="#ececec" stroke="#000" stroke-width="2.76" stroke-linejoin="round" />
<line x1="619.9" y1="1440.2" x2="635.9" y2="1437.2" stroke="#333" stroke-width="1.7"/>
<line x1="620.7" y1="1448.9" x2="636.7" y2="1445.9" stroke="#333" stroke-width="1.7"/>
<line x1="619.9" y1="1457.2" x2="635.9" y2="1454.2" stroke="#333" stroke-width="1.7"/>
<line x1="617.4" y1="1464.8" x2="633.4" y2="1461.8" stroke="#333" stroke-width="1.7"/>
<line x1="613.5" y1="1471.0" x2="629.5" y2="1468.0" stroke="#333" stroke-width="1.7"/>
<line x1="608.4" y1="1475.4" x2="624.4" y2="1472.4" stroke="#333" stroke-width="1.7"/>
<line x1="596.1" y1="1411.8" x2="612.1" y2="1408.8" stroke="#333" stroke-width="1.7"/>
<line x1="602.4" y1="1414.0" x2="618.4" y2="1411.0" stroke="#333" stroke-width="1.7"/>
<line x1="608.4" y1="1418.3" x2="624.4" y2="1415.3" stroke="#333" stroke-width="1.7"/>
<line x1="613.5" y1="1424.4" x2="629.5" y2="1421.4" stroke="#333" stroke-width="1.7"/>
<line x1="617.4" y1="1431.8" x2="633.4" y2="1428.8" stroke="#333" stroke-width="1.7"/>
<path d="M627.9,1438.7 L628.2,1440.8 L628.5,1443.0 L628.6,1445.2 L628.7,1447.4 L628.6,1449.5 L628.5,1451.6 L628.2,1453.7 L627.9,1455.7 L627.4,1457.7 L626.8,1459.7 L626.2,1461.5 L625.4,1463.3 L624.6,1465.0 L623.6,1466.6 L622.6,1468.1 L621.5,1469.5 L620.3,1470.8 L619.1,1471.9 L617.8,1473.0 L616.4,1473.9 L615.0,1474.7 L613.5,1475.3 L612.0,1475.8 L610.5,1476.2 L599.3,1410.2 L600.9,1410.1 L602.5,1410.1 L604.1,1410.3 L605.7,1410.7 L607.3,1411.2 L608.9,1411.8 L610.4,1412.5 L612.0,1413.4 L613.5,1414.4 L615.0,1415.5 L616.4,1416.8 L617.7,1418.1 L619.1,1419.6 L620.3,1421.2 L621.5,1422.9 L622.6,1424.6 L623.6,1426.4 L624.5,1428.4 L625.4,1430.3 L626.2,1432.4 L626.8,1434.4 L627.4,1436.5" fill="none" stroke="#777" stroke-width="0.9"/>
<ellipse cx="596.1" cy="1444.8" rx="24.2" ry="33.5" transform="rotate(-11 596.1 1444.8)" fill="#fff" stroke="#000" stroke-width="2.99"/>
<ellipse cx="597.6" cy="1444.8" rx="19.4" ry="26.8" transform="rotate(-11 597.6 1444.8)" fill="none" stroke="#8a8a8a" stroke-width="1.38"/>
<ellipse cx="599.1" cy="1443.8" rx="7.3" ry="10.0" transform="rotate(-11 599.1 1443.8)" fill="none" stroke="#8a8a8a" stroke-width="1.26"/>
<ellipse cx="599.1" cy="1443.8" rx="2.9" ry="4.0" transform="rotate(-11 599.1 1443.8)" fill="none" stroke="#8a8a8a" stroke-width="1.15"/>
<line x1="606.0" y1="1446.8" x2="614.6" y2="1457.6" stroke="#888" stroke-width="1.2"/>
<line x1="606.0" y1="1446.8" x2="611.8" y2="1463.1" stroke="#999" stroke-width="1"/>
<line x1="601.7" y1="1453.2" x2="600.9" y2="1471.2" stroke="#888" stroke-width="1.2"/>
<line x1="601.7" y1="1453.2" x2="596.1" y2="1471.5" stroke="#999" stroke-width="1"/>
<line x1="595.5" y1="1452.5" x2="584.8" y2="1464.9" stroke="#888" stroke-width="1.2"/>
<line x1="595.5" y1="1452.5" x2="581.6" y2="1459.9" stroke="#999" stroke-width="1"/>
<line x1="591.9" y1="1445.3" x2="578.3" y2="1443.4" stroke="#888" stroke-width="1.2"/>
<line x1="591.9" y1="1445.3" x2="579.1" y2="1436.8" stroke="#999" stroke-width="1"/>
<line x1="593.8" y1="1437.0" x2="586.3" y2="1423.0" stroke="#888" stroke-width="1.2"/>
<line x1="593.8" y1="1437.0" x2="590.6" y2="1419.8" stroke="#999" stroke-width="1"/>
<line x1="599.6" y1="1433.8" x2="602.9" y2="1419.0" stroke="#888" stroke-width="1.2"/>
<line x1="599.6" y1="1433.8" x2="607.3" y2="1421.6" stroke="#999" stroke-width="1"/>
<line x1="605.1" y1="1438.1" x2="615.4" y2="1434.4" stroke="#888" stroke-width="1.2"/>
<line x1="605.1" y1="1438.1" x2="616.7" y2="1440.9" stroke="#999" stroke-width="1"/>
<ellipse cx="657.4" cy="1413.4" rx="6.5" ry="8.0" transform="rotate(-10 657.4 1413.4)" fill="#d4d4d4" stroke="#000" stroke-width="1.72"/>
<ellipse cx="656.9" cy="1413.4" rx="3.6" ry="4.4" transform="rotate(-10 656.9 1413.4)" fill="#fff" stroke="#000" stroke-width="1.26"/>
<ellipse cx="656.9" cy="1413.4" rx="1.9" ry="2.4" transform="rotate(-10 656.9 1413.4)" fill="#aaa" stroke="#000" stroke-width="1.03"/>
<ellipse cx="672.7" cy="1403.7" rx="6.5" ry="8.0" transform="rotate(-10 672.7 1403.7)" fill="#d4d4d4" stroke="#000" stroke-width="1.72"/>
<ellipse cx="672.2" cy="1403.7" rx="3.6" ry="4.4" transform="rotate(-10 672.2 1403.7)" fill="#fff" stroke="#000" stroke-width="1.26"/>
<ellipse cx="672.2" cy="1403.7" rx="1.9" ry="2.4" transform="rotate(-10 672.2 1403.7)" fill="#aaa" stroke="#000" stroke-width="1.03"/>
<g transform="translate(650.2,1376.6) rotate(147.0)">
<rect x="0" y="-2.5" width="26.5" height="5.0" rx="2.5" fill="#fff" stroke="#000" stroke-width="1.2"/>
<line x1="3.0" y1="-1.9" x2="4.2" y2="1.9" stroke="#555" stroke-width="0.9"/>
<line x1="5.6" y1="-1.9" x2="6.8" y2="1.9" stroke="#555" stroke-width="0.9"/>
<line x1="8.2" y1="-1.9" x2="9.4" y2="1.9" stroke="#555" stroke-width="0.9"/>
<line x1="10.8" y1="-1.9" x2="12.0" y2="1.9" stroke="#555" stroke-width="0.9"/>
<line x1="13.4" y1="-1.9" x2="14.6" y2="1.9" stroke="#555" stroke-width="0.9"/>
<line x1="16.0" y1="-1.9" x2="17.2" y2="1.9" stroke="#555" stroke-width="0.9"/>
<line x1="18.6" y1="-1.9" x2="19.8" y2="1.9" stroke="#555" stroke-width="0.9"/>
<line x1="21.2" y1="-1.9" x2="22.4" y2="1.9" stroke="#555" stroke-width="0.9"/>
<ellipse cx="26.5" cy="0" rx="4.2" ry="7.0" fill="#fff" stroke="#000" stroke-width="1.3"/>
</g>
<path d="M619,1388 L623,1384 L631,1385 L634,1390 L632,1398 L625,1400 L619,1396Z" fill="#fff" stroke="#000" stroke-width="1.49" stroke-linejoin="round" />
<path d="M657.4,1246.5 L662.2,1244.5 L680.7,1255.5 L683.2,1264.5 L680.2,1272.5 L683.2,1280.0 L679.2,1281.5 L661.3,1273.5Z" fill="#f4f4f4" stroke="#000" stroke-width="1.61" stroke-linejoin="round" />
<path d="M659.2,1260.5 L681.7,1266.5" fill="none" stroke="#000" stroke-width="1.15" stroke-linejoin="round" />
<path d="M669.0,1288.3 C669.6,1287.3 674.7,1286.4 676.3,1287.3 C677.9,1288.2 681.4,1293.3 682.6,1295.7 C683.8,1298.1 686.8,1305.3 686.8,1308.2 C686.8,1311.1 682.8,1317.9 682.6,1320.8 C682.4,1323.7 684.0,1330.5 684.7,1333.4 C685.4,1336.3 688.5,1340.6 688.9,1346.0 C689.3,1351.4 688.5,1375.3 687.8,1379.5 C687.1,1383.7 685.5,1383.1 682.6,1381.6 C679.7,1380.1 665.0,1372.0 662.7,1366.9 C660.4,1361.8 662.2,1341.9 662.7,1337.6 C663.2,1333.3 665.9,1332.8 666.9,1330.3 C667.9,1327.8 670.2,1319.7 671.1,1316.6 C672.0,1313.5 674.2,1306.5 674.2,1304.1 C674.2,1301.7 671.7,1297.5 671.1,1295.7 C670.5,1293.9 668.4,1289.3 669.0,1288.3Z" fill="#fff" stroke="#000" stroke-width="1.61" stroke-linejoin="round" />
<path d="M662.7,1341.8 L682.6,1350.2" fill="none" stroke="#000" stroke-width="1.15" stroke-linejoin="round" />
<path d="M675.5,1292 Q681.5,1304 677.5,1319 Q678.5,1331 682.5,1344" fill="none" stroke="#666" stroke-width="1.03" stroke-linejoin="round" />
<ellipse cx="674.2" cy="1364.8" rx="3.8" ry="5.0" transform="rotate(-10 674.2 1364.8)" fill="#fff" stroke="#000" stroke-width="1.49"/>
<ellipse cx="674.2" cy="1364.8" rx="1.8" ry="2.6" transform="rotate(-10 674.2 1364.8)" fill="#fff" stroke="#000" stroke-width="1.15"/>
<path d="M732.9,1262.9 Q737.0,1256.0 748.4,1255.8 Q765.0,1255.0 776.8,1266.8 Q783.5,1274.0 785.2,1281.0 L785.2,1288.7 L781.5,1291.5 L780.5,1296.0 L779.4,1315.8 Q776.0,1322.5 771.6,1324.0 Q767.0,1325.0 763.9,1324.0 Q757.0,1320.0 754.9,1313.3 L749.7,1299.1 L751.5,1274.0 L748.0,1268.5 L745.0,1269.0 L743.5,1265.5 L740.0,1266.0 L738.0,1268.0 L734.5,1267.5Z" fill="#fff" stroke="#000" stroke-width="1.61" stroke-linejoin="round" />
<path d="M748.9,1259.9 L753.7,1259.1 L754.5,1263.5 L749.7,1264.3Z" fill="#fff" stroke="#000" stroke-width="1.26" stroke-linejoin="round" />
<path d="M756.9,1261.4 L761.7,1260.6 L762.5,1265.0 L757.7,1265.8Z" fill="#fff" stroke="#000" stroke-width="1.26" stroke-linejoin="round" />
<path d="M764.4,1265.9 L769.2,1265.1 L770.0,1269.5 L765.2,1270.3Z" fill="#fff" stroke="#000" stroke-width="1.26" stroke-linejoin="round" />
<path d="M771.4,1272.4 L776.2,1271.6 L777.0,1276.0 L772.2,1276.8Z" fill="#fff" stroke="#000" stroke-width="1.26" stroke-linejoin="round" />
<path d="M776.4,1279.9 L781.2,1279.1 L782.0,1283.5 L777.2,1284.3Z" fill="#fff" stroke="#000" stroke-width="1.26" stroke-linejoin="round" />
<path d="M760.5,1283.0 L764.0,1282.0 Q771.5,1282.5 770.5,1291.0 Q769.5,1297.0 767.0,1298.5 L763.5,1294.0 Z" fill="#000" stroke="#000" stroke-width="1.15" stroke-linejoin="round" />
<path d="M764.2,1286.0 Q767.5,1287.0 766.8,1291.5 L765.2,1292.0Z" fill="#fff" stroke="#fff" stroke-width="0.69" stroke-linejoin="round" />
<ellipse cx="763.3" cy="1306.8" rx="4.6" ry="6.3" transform="rotate(-15 763.3 1306.8)" fill="#fff" stroke="#000" stroke-width="1.61"/>
<ellipse cx="763.3" cy="1306.8" rx="7.0" ry="8.8" transform="rotate(-15 763.3 1306.8)" fill="none" stroke="#555" stroke-width="0.92"/>
<path d="M779.4,1289.0 L780.0,1313.0" fill="none" stroke="#555" stroke-width="2.07" stroke-linejoin="round" />
<path d="M717.0,1311.3 L722.8,1308.4 L753.3,1328.7 L753.3,1337.4 L770.7,1343.2 L772.1,1363.6 L766.3,1366.5 L750.4,1357.8 L746.0,1346.1 L717.0,1330.2Z" fill="#fff" stroke="#000" stroke-width="1.61" stroke-linejoin="round" />
<path d="M753.3,1337.4 L750,1346 L766,1352 L766.3,1366.5 M766,1352 L770.7,1343.2" fill="none" stroke="#000" stroke-width="1.15" stroke-linejoin="round" />
<ellipse cx="731.5" cy="1327.3" rx="2.5" ry="3.0" transform="rotate(0 731.5 1327.3)" fill="#fff" stroke="#000" stroke-width="1.15"/>
<ellipse cx="719.9" cy="1330.2" rx="2.5" ry="3.0" transform="rotate(0 719.9 1330.2)" fill="#fff" stroke="#000" stroke-width="1.15"/>
<ellipse cx="741.6" cy="1325.8" rx="2.5" ry="3.0" transform="rotate(0 741.6 1325.8)" fill="#fff" stroke="#000" stroke-width="1.15"/>
<ellipse cx="741.6" cy="1341.8" rx="2.5" ry="3.0" transform="rotate(0 741.6 1341.8)" fill="#fff" stroke="#000" stroke-width="1.15"/>
<path d="M729,1369.5 L764.9,1350.5" stroke="#000" stroke-width="8.6" stroke-linecap="butt"/><path d="M729,1369.5 L765.5,1350.2" stroke="#fff" stroke-width="5.6" stroke-linecap="butt"/>
<path d="M721.3,1373.7 L730,1369" stroke="#000" stroke-width="5.4" stroke-linecap="round"/><path d="M721.3,1373.7 L730.5,1368.7" stroke="#fff" stroke-width="2.8" stroke-linecap="round"/>
<path d="M727.5,1366 L731,1372.3" fill="none" stroke="#000" stroke-width="1.26" stroke-linejoin="round" />
<path d="M933,560 Q930,575 945,584 Q965,591 984,589 L986,560 Q960,552 933,560Z" fill="#f2f2f2" stroke="#555" stroke-width="1.38" stroke-linejoin="round" />
<path d="M936,572 Q955,583 984,582" fill="none" stroke="#999" stroke-width="1.03" stroke-linejoin="round" />
<path d="M950,555 L950,568 Q962,573 976,568 L976,555" fill="#fff" stroke="#000" stroke-width="1.49" stroke-linejoin="round" />
<path d="M1055.0,545.0 L1070.0,560.0 L1070.0,578.0 L1057.0,588.0Z" fill="#9a9a9a" stroke="#000" stroke-width="1.38" stroke-linejoin="round" />
<path d="M1052.0,533.0 L1084.0,531.0 L1090.5,542.0 L1090.0,558.0 L1082.0,565.0 L1070.0,570.0 L1058.0,566.0Z" fill="#111" stroke="#000" stroke-width="1.49" stroke-linejoin="round" />
<path d="M1063.0,563.0 L1069.0,560.0 L1074.0,563.0 L1072.0,569.0 L1066.0,571.0 L1062.0,568.0Z" fill="#fff" stroke="#000" stroke-width="1.15" stroke-linejoin="round" />
<path d="M926.0,528.0 L950.0,524.0 L978.0,530.0 L980.0,560.0 L962.0,566.0 L940.0,560.0 L928.0,548.0Z" fill="#fff" stroke="#333" stroke-width="1.38" stroke-linejoin="round" />
<path d="M912,516 Q914,540 925,552 Q935,560 950,562" fill="none" stroke="#000" stroke-width="2.53" stroke-linejoin="round" />
<path d="M913,512 L946,531" fill="none" stroke="#444" stroke-width="4.83" stroke-linejoin="round" />
<path d="M946,531 Q953,537 952,546" fill="none" stroke="#000" stroke-width="5.17" stroke-linejoin="round" />
<ellipse cx="952.0" cy="541.0" rx="5.0" ry="6.0" transform="rotate(0 952.0 541.0)" fill="#000" stroke="#000" stroke-width="1.38"/>
<path d="M958,538 Q963,540 962,546" fill="none" stroke="#000" stroke-width="1.38" stroke-linejoin="round" />
<path d="M918.3,480.4 L945.0,487.0 L970.0,492.0 L1000.0,496.0 L1012.0,496.6 L1033.0,495.0 L1074.8,479.3 L1089.5,492.9 L1092.7,516.0 L1085.3,522.3 L1053.9,531.7 L985.8,529.2 L953.6,518.7 L922.4,515.7Z" fill="#fafafa" stroke="#000" stroke-width="1.95" stroke-linejoin="round" />
<path d="M920,486 L960,497" fill="none" stroke="#999" stroke-width="1.15" stroke-linejoin="round" />
<path d="M1035,499 L1048,514 L1060,510 L1089,498" fill="none" stroke="#999" stroke-width="1.03" stroke-linejoin="round" />
<path d="M1043,499 L1054,514 L1054,527" fill="none" stroke="#aaa" stroke-width="1.03" stroke-linejoin="round" />
<path d="M955.0,505.0 L962.0,496.0 L1010.0,498.0 L1018.0,504.0 L1018.0,522.0 L956.0,518.0Z" fill="#f6f6f6" stroke="#222" stroke-width="1.61" stroke-linejoin="round" />
<path d="M957,510 L1016,514" fill="none" stroke="#aaa" stroke-width="1.03" stroke-linejoin="round" />
<path d="M957,514 L1016,518" fill="none" stroke="#aaa" stroke-width="1.03" stroke-linejoin="round" />
<path d="M884.0,477.4 L887.1,482.4 L892.1,515.7 L897.2,520.7 L907.3,520.7 L910.3,512.7 L921.4,512.7 L918.3,480.4 L917.0,466.0 L928.0,458.0 L950.6,446.1 L915.3,459.2 L890.1,470.3Z" fill="#626262" stroke="#000" stroke-width="1.84" stroke-linejoin="round" />
<path d="M904.5,483 L902,495 L904,510" fill="none" stroke="#111" stroke-width="1.38" stroke-linejoin="round" />
<path d="M909,486 L918,478" fill="none" stroke="#111" stroke-width="1.38" stroke-linejoin="round" />
<path d="M893.1,470 L893.5,460 Q896,455.2 904,455.2 Q913,455.2 915.3,460 L915.3,470.5 Q905,473 893.1,470Z" fill="#626262" stroke="#000" stroke-width="1.72" stroke-linejoin="round" />
<path d="M898,459 L898,469" fill="none" stroke="#222" stroke-width="1.15" stroke-linejoin="round" />
<path d="M902.5,459 L902.5,469" fill="none" stroke="#222" stroke-width="1.15" stroke-linejoin="round" />
<path d="M907,459 L907,469" fill="none" stroke="#222" stroke-width="1.15" stroke-linejoin="round" />
<path d="M911,459 L911,469" fill="none" stroke="#222" stroke-width="1.15" stroke-linejoin="round" />
<path d="M918.3,478.4 L917.0,466.0 L928.0,458.0 L950.6,446.1 L970.0,441.5 L996.2,435.2 L1038.1,442.6 L1048.6,449.9 L1074.8,478.2 L1074.8,479.3 L1033.0,495.0 L1012.0,496.6 L1000.0,496.0 L970.0,492.0 L945.0,487.0Z" fill="#606060" stroke="#000" stroke-width="2.18" stroke-linejoin="round" />
<path d="M943.5,456.2 L970.0,460.4 L1004.6,465.6 L1041.3,453.1 L1042.0,454.5 L1008.0,468.5 L1027.0,492.5 L1024.0,492.8 L1001.0,469.5 L970.0,463.5 L943.0,459.5Z" fill="#f0f0f0" stroke="none" stroke-width="0.00" stroke-linejoin="round" />
<ellipse cx="994.1" cy="445.7" rx="26.2" ry="11.0" transform="rotate(0 994.1 445.7)" fill="#222" stroke="#000" stroke-width="1.84"/>
<line x1="1001.1" y1="445.7" x2="1017.1" y2="445.7" stroke="#9a9a9a" stroke-width="1.2"/>
<line x1="1000.7" y1="446.7" x2="1015.7" y2="449.0" stroke="#9a9a9a" stroke-width="1.2"/>
<line x1="999.5" y1="447.6" x2="1011.7" y2="451.9" stroke="#9a9a9a" stroke-width="1.2"/>
<line x1="997.6" y1="448.3" x2="1005.6" y2="454.0" stroke="#9a9a9a" stroke-width="1.2"/>
<line x1="995.3" y1="448.7" x2="998.1" y2="455.2" stroke="#9a9a9a" stroke-width="1.2"/>
<line x1="992.9" y1="448.7" x2="990.1" y2="455.2" stroke="#9a9a9a" stroke-width="1.2"/>
<line x1="990.6" y1="448.3" x2="982.6" y2="454.0" stroke="#9a9a9a" stroke-width="1.2"/>
<line x1="988.7" y1="447.6" x2="976.5" y2="451.9" stroke="#9a9a9a" stroke-width="1.2"/>
<line x1="987.5" y1="446.7" x2="972.5" y2="449.0" stroke="#9a9a9a" stroke-width="1.2"/>
<line x1="987.1" y1="445.7" x2="971.1" y2="445.7" stroke="#9a9a9a" stroke-width="1.2"/>
<line x1="987.5" y1="444.7" x2="972.5" y2="442.4" stroke="#9a9a9a" stroke-width="1.2"/>
<line x1="988.7" y1="443.8" x2="976.5" y2="439.5" stroke="#9a9a9a" stroke-width="1.2"/>
<line x1="990.6" y1="443.1" x2="982.6" y2="437.4" stroke="#9a9a9a" stroke-width="1.2"/>
<line x1="992.9" y1="442.7" x2="990.1" y2="436.2" stroke="#9a9a9a" stroke-width="1.2"/>
<line x1="995.3" y1="442.7" x2="998.1" y2="436.2" stroke="#9a9a9a" stroke-width="1.2"/>
<line x1="997.6" y1="443.1" x2="1005.6" y2="437.4" stroke="#9a9a9a" stroke-width="1.2"/>
<line x1="999.5" y1="443.8" x2="1011.7" y2="439.5" stroke="#9a9a9a" stroke-width="1.2"/>
<line x1="1000.7" y1="444.7" x2="1015.7" y2="442.4" stroke="#9a9a9a" stroke-width="1.2"/>
<ellipse cx="994.1" cy="445.7" rx="5.0" ry="2.4" transform="rotate(0 994.1 445.7)" fill="#000" stroke="#000" stroke-width="1.15"/>
<path d="M987.1,531.0 L1003.2,525.3 L1054.8,535.8 L1059.7,542.3 L1057.3,600.3 L1035.5,618.1 L993.5,600.3 L983.9,581.0 L985.5,534.2Z" fill="#8e8e8e" stroke="#000" stroke-width="2.18" stroke-linejoin="round" />
<path d="M1036.0,540.0 L1054.8,535.8 L1059.7,542.3 L1057.3,600.3 L1035.5,618.1" fill="none" stroke="#000" stroke-width="1.38" stroke-linejoin="round" />
<path d="M1036,540 L1035.5,618" fill="none" stroke="#000" stroke-width="1.49" stroke-linejoin="round" />
<path d="M989.0,536.5 L1007.0,539.5 L1007.0,543.5 L989.0,540.5Z" fill="#fff" stroke="#000" stroke-width="1.84" stroke-linejoin="round" />
<path d="M1009.0,536.5 L1030.0,539.5 L1030.0,543.5 L1009.0,540.5Z" fill="#fff" stroke="#000" stroke-width="1.84" stroke-linejoin="round" />
<path d="M989.0,545.7 L1007.0,548.7 L1007.0,552.7 L989.0,549.7Z" fill="#fff" stroke="#000" stroke-width="1.84" stroke-linejoin="round" />
<path d="M1009.0,545.7 L1030.0,548.7 L1030.0,552.7 L1009.0,549.7Z" fill="#fff" stroke="#000" stroke-width="1.84" stroke-linejoin="round" />
<path d="M989.0,554.9 L1007.0,557.9 L1007.0,561.9 L989.0,558.9Z" fill="#fff" stroke="#000" stroke-width="1.84" stroke-linejoin="round" />
<path d="M1009.0,554.9 L1030.0,557.9 L1030.0,561.9 L1009.0,558.9Z" fill="#fff" stroke="#000" stroke-width="1.84" stroke-linejoin="round" />
<path d="M989.0,564.1 L1007.0,567.1 L1007.0,571.1 L989.0,568.1Z" fill="#fff" stroke="#000" stroke-width="1.84" stroke-linejoin="round" />
<path d="M1009.0,564.1 L1030.0,567.1 L1030.0,571.1 L1009.0,568.1Z" fill="#fff" stroke="#000" stroke-width="1.84" stroke-linejoin="round" />
<path d="M989.0,573.3 L1007.0,576.3 L1007.0,580.3 L989.0,577.3Z" fill="#fff" stroke="#000" stroke-width="1.84" stroke-linejoin="round" />
<path d="M1015.0,573.3 L1028.0,576.3 L1028.0,580.3 L1015.0,577.3Z" fill="#fff" stroke="#000" stroke-width="1.84" stroke-linejoin="round" />
<path d="M989.0,582.5 L1007.0,585.5 L1007.0,589.5 L989.0,586.5Z" fill="#fff" stroke="#000" stroke-width="1.84" stroke-linejoin="round" />
<path d="M1015.0,582.5 L1028.0,585.5 L1028.0,589.5 L1015.0,586.5Z" fill="#fff" stroke="#000" stroke-width="1.84" stroke-linejoin="round" />
<path d="M989.0,591.7 L1007.0,594.7 L1007.0,598.7 L989.0,595.7Z" fill="#fff" stroke="#000" stroke-width="1.84" stroke-linejoin="round" />
<path d="M1015.0,591.7 L1028.0,594.7 L1028.0,598.7 L1015.0,595.7Z" fill="#fff" stroke="#000" stroke-width="1.84" stroke-linejoin="round" />
<path d="M989.0,600.9 L1007.0,603.9 L1007.0,607.9 L989.0,604.9Z" fill="#fff" stroke="#000" stroke-width="1.84" stroke-linejoin="round" />
<path d="M1015.0,600.9 L1028.0,603.9 L1028.0,607.9 L1015.0,604.9Z" fill="#fff" stroke="#000" stroke-width="1.84" stroke-linejoin="round" />
<ellipse cx="1041.5" cy="543.0" rx="2.6" ry="2.8" transform="rotate(0 1041.5 543.0)" fill="#fff" stroke="#000" stroke-width="1.49"/>
<path d="M1045,541.0 L1054,539.0 L1054,544.0 L1045,546.0Z" fill="#fff" stroke="#000" stroke-width="1.26" stroke-linejoin="round" />
<ellipse cx="1041.5" cy="550.8" rx="2.6" ry="2.8" transform="rotate(0 1041.5 550.8)" fill="#fff" stroke="#000" stroke-width="1.49"/>
<path d="M1045,548.8 L1054,546.8 L1054,551.8 L1045,553.8Z" fill="#fff" stroke="#000" stroke-width="1.26" stroke-linejoin="round" />
<ellipse cx="1041.5" cy="558.6" rx="2.6" ry="2.8" transform="rotate(0 1041.5 558.6)" fill="#fff" stroke="#000" stroke-width="1.49"/>
<path d="M1045,556.6 L1054,554.6 L1054,559.6 L1045,561.6Z" fill="#fff" stroke="#000" stroke-width="1.26" stroke-linejoin="round" />
<ellipse cx="1041.5" cy="566.4" rx="2.6" ry="2.8" transform="rotate(0 1041.5 566.4)" fill="#fff" stroke="#000" stroke-width="1.49"/>
<path d="M1045,564.4 L1054,562.4 L1054,567.4 L1045,569.4Z" fill="#fff" stroke="#000" stroke-width="1.26" stroke-linejoin="round" />
<ellipse cx="1041.5" cy="574.2" rx="2.6" ry="2.8" transform="rotate(0 1041.5 574.2)" fill="#fff" stroke="#000" stroke-width="1.49"/>
<path d="M1045,572.2 L1054,570.2 L1054,575.2 L1045,577.2Z" fill="#fff" stroke="#000" stroke-width="1.26" stroke-linejoin="round" />
<ellipse cx="1041.5" cy="582.0" rx="2.6" ry="2.8" transform="rotate(0 1041.5 582.0)" fill="#fff" stroke="#000" stroke-width="1.49"/>
<path d="M1045,580.0 L1054,578.0 L1054,583.0 L1045,585.0Z" fill="#fff" stroke="#000" stroke-width="1.26" stroke-linejoin="round" />
<ellipse cx="1041.5" cy="589.8" rx="2.6" ry="2.8" transform="rotate(0 1041.5 589.8)" fill="#fff" stroke="#000" stroke-width="1.49"/>
<path d="M1045,587.8 L1054,585.8 L1054,590.8 L1045,592.8Z" fill="#fff" stroke="#000" stroke-width="1.26" stroke-linejoin="round" />
<ellipse cx="1041.5" cy="597.6" rx="2.6" ry="2.8" transform="rotate(0 1041.5 597.6)" fill="#fff" stroke="#000" stroke-width="1.49"/>
<path d="M1045,595.6 L1054,593.6 L1054,598.6 L1045,600.6Z" fill="#fff" stroke="#000" stroke-width="1.26" stroke-linejoin="round" />
<ellipse cx="1041.5" cy="605.4" rx="2.6" ry="2.8" transform="rotate(0 1041.5 605.4)" fill="#fff" stroke="#000" stroke-width="1.49"/>
<path d="M1045,603.4 L1054,601.4 L1054,606.4 L1045,608.4Z" fill="#fff" stroke="#000" stroke-width="1.26" stroke-linejoin="round" />
<g fill="none" stroke="#111" stroke-width="1.4" stroke-linejoin="miter">
<polyline points="307.0,229.0 328.0,229.0 357.0,281.0"/>
<polyline points="527.4,241.3 511.0,241.3 482.0,287.0"/>
<polyline points="566.0,331.0 544.5,331.0 461.0,379.0"/>
<polyline points="221.5,369.8 331.5,369.8 384.5,424.0"/>
<polyline points="601.6,396.8 585.5,396.8 558.0,363.0"/>
<polyline points="223.3,416.2 281.0,416.2 353.5,431.6"/>
<polyline points="604.8,428.4 583.0,428.4 521.0,466.0"/>
<polyline points="222.6,456.8 274.4,456.8"/>
<polyline points="435.0,392.0 435.0,499.2 444.3,499.2"/>
<polyline points="394.0,538.8 429.0,538.8 485.0,556.0"/>
<polyline points="606.8,506.8 579.0,506.8 543.0,574.0"/>
<polyline points="398.0,573.4 457.0,573.4 478.4,604.5"/>
<polyline points="208.4,600.0 208.4,627.0"/>
<polyline points="710.6,584.5 689.7,584.5 651.0,632.0"/>
<polyline points="367.0,671.0 384.0,671.0 414.8,638.7"/>
<polyline points="248.6,727.6 270.0,727.6 270.0,776.6"/>
<polyline points="627.4,730.0 627.4,767.0"/>
<polyline points="1059.4,739.2 1039.6,739.2 1039.6,772.0"/>
<polyline points="490.3,809.6 534.7,809.6"/>
<polyline points="749.6,794.4 741.0,794.4 717.5,854.7"/>
<polyline points="1007.3,854.4 982.6,854.4 958.0,838.0"/>
<polyline points="578.6,865.9 622.6,865.9"/>
<polyline points="945.6,890.0 919.5,890.0 896.2,875.0"/>
<polyline points="956.3,975.3 892.3,975.3"/>
<polyline points="590.4,997.0 610.7,997.0 673.4,929.2"/>
<polyline points="619.2,1026.4 676.8,1026.4"/>
<polyline points="1038.0,1066.0 952.9,1065.6"/>
<polyline points="621.3,1079.8 636.0,1079.8 636.0,1121.7"/>
<polyline points="1042.0,1120.8 893.5,1120.8"/>
<polyline points="230.2,1132.0 235.8,1132.0 273.2,1029.4"/>
<polyline points="430.4,1163.4 455.5,1163.4 490.4,1211.0"/>
<polyline points="284.0,1229.0 310.3,1229.0 327.8,1271.0"/>
<polyline points="233.0,1276.8 240.7,1276.8 250.3,1338.7"/>
<polyline points="1008.4,1270.5 962.4,1270.5"/>
<polyline points="513.2,1306.8 493.8,1306.8 468.4,1271.7"/>
<polyline points="962.4,1311.3 934.8,1311.3 934.8,1286.8"/>
<polyline points="812.8,1346.1 772.1,1346.1"/>
<polyline points="1059.0,1375.7 993.0,1375.7"/>
<polyline points="369.7,1384.3 346.3,1384.3 311.8,1345.8"/>
<polyline points="355.6,1411.5 332.2,1411.5 292.3,1354.7"/>
<polyline points="1065.1,1428.4 1017.6,1428.4 974.7,1410.9"/>
<polyline points="714.8,1435.7 693.7,1435.7 677.8,1411.5"/>
<polyline points="475.8,1440.2 489.0,1440.2 512.3,1471.0"/>
<polyline points="1056.8,1476.8 1042.1,1476.8"/>
<polyline points="899.6,1486.0 951.7,1486.0"/>
<polyline points="683.6,1487.0 663.2,1487.0 632.8,1468.0"/>
<polyline points="452.2,1481.6 471.2,1481.6 493.4,1507.0"/>
<polyline points="1072.8,1513.6 970.0,1513.6"/>
<polyline points="881.2,1547.9 957.8,1547.9"/>
<polyline points="993.8,374.7 993.8,436.0"/>
<rect x="908.3" y="349.0" width="177.7" height="25.2" stroke-width="1.3"/>
<rect x="112.8" y="1120.5" width="116.9" height="25.0" stroke-width="1.3"/>
<rect x="170.7" y="1217.3" width="112.8" height="23.4" stroke-width="1.3"/>
<rect x="1057.3" y="1464.4" width="81.5" height="25.1" stroke-width="1.3"/>
<rect x="684.1" y="1473.8" width="113.7" height="25.2" stroke-width="1.3"/>
</g>
<g font-family="&quot;Liberation Sans&quot;, sans-serif" font-size="22.5" fill="#000">
<text transform="translate(197.8,237.0) scale(1.025,1)">54908941</text>
<text transform="translate(538.2,249.4) scale(1.025,1)">53133702</text>
<text transform="translate(572.8,339.1) scale(1.025,1)">518925</text>
<text transform="translate(136.5,377.4) scale(1.025,1)">702849</text>
<text transform="translate(601.8,405.2) scale(1.025,1)">700734</text>
<text transform="translate(137.4,424.0) scale(1.025,1)">545307</text>
<text transform="translate(612.1,436.9) scale(1.025,1)">526703()</text>
<text transform="translate(137.4,464.0) scale(1.025,1)">703697</text>
<text transform="translate(447.4,508.0) scale(1.025,1)">337176</text>
<text transform="translate(311.7,547.4) scale(1.025,1)">531203</text>
<text transform="translate(610.8,515.4) scale(1.025,1)">512371(2)</text>
<text transform="translate(280.8,581.0) scale(1.025,1)">512369(2)</text>
<text transform="translate(156.3,595.4) scale(1.025,1)">701422(2)</text>
<text transform="translate(720.8,592.0) scale(1.025,1)">54907541</text>
<text transform="translate(252.3,677.8) scale(1.025,1)">701771(2)</text>
<text transform="translate(140.2,734.7) scale(1.025,1)">53102701</text>
<text transform="translate(579.8,727.4) scale(1.025,1)">528347(4)</text>
<text transform="translate(1066.9,746.4) scale(1.025,1)">510953(2)</text>
<text transform="translate(376.2,816.8) scale(1.025,1)">703172(4)</text>
<text transform="translate(759.6,801.4) scale(1.025,1)">51229801</text>
<text transform="translate(1006.1,860.2) scale(1.025,1)">530423</text>
<text transform="translate(499.4,876.1) scale(1.025,1)">531023</text>
<text transform="translate(952.6,895.9) scale(1.025,1)">531026</text>
<text transform="translate(961.5,983.9) scale(1.025,1)">500071(3)</text>
<text transform="translate(472.3,1004.1) scale(1.025,1)">348953(2)</text>
<text transform="translate(542.8,1036.4) scale(1.025,1)">513381</text>
<text transform="translate(1048.5,1073.9) scale(1.025,1)">53070241</text>
<text transform="translate(507.8,1088.9) scale(1.025,1)">531031(4)</text>
<text transform="translate(1049.8,1131.0) scale(1.025,1)">703172(3)</text>
<text transform="translate(120.3,1138.4) scale(1.025,1)">53102836</text>
<text transform="translate(315.8,1172.7) scale(1.025,1)">531032(4)</text>
<text transform="translate(173.7,1236.4) scale(1.025,1)">527533(2)</text>
<text transform="translate(88.5,1284.9) scale(1.025,1)">46021178(2)</text>
<text transform="translate(1013.3,1279.4) scale(1.025,1)">703172(4)</text>
<text transform="translate(519.9,1314.0) scale(1.025,1)">531033(4)</text>
<text transform="translate(971.3,1317.8) scale(1.025,1)">531335(4)</text>
<text transform="translate(820.8,1353.1) scale(1.025,1)">531034(4)</text>
<text transform="translate(1063.9,1385.2) scale(1.025,1)">531217</text>
<text transform="translate(375.4,1393.4) scale(1.025,1)">700138(4)</text>
<text transform="translate(360.8,1420.1) scale(1.025,1)">692795(4)</text>
<text transform="translate(1072.5,1436.7) scale(1.025,1)">463481</text>
<text transform="translate(722.8,1443.4) scale(1.025,1)">549372(8)</text>
<text transform="translate(344.3,1446.7) scale(1.025,1)">46576478(2)</text>
<text transform="translate(1059.3,1485.4) scale(1.025,1)">513520</text>
<text transform="translate(820.3,1494.0) scale(1.025,1)">316913</text>
<text transform="translate(688.2,1493.2) scale(1.025,1)">527532(2)</text>
<text transform="translate(322.2,1489.7) scale(1.025,1)">53147001(4)</text>
<text transform="translate(1072.5,1524.7) scale(1.025,1)">700202</text>
<text transform="translate(805.5,1556.9) scale(1.025,1)">323221</text>
<text transform="translate(917.8,369.8) scale(1.025,1)">HondaGCV135</text>
</g>
<g fill="none" stroke="#000" stroke-width="1.7"><circle cx="714.7" cy="431.2" r="6.6"/><path d="M710.2,420.4h9.4v3h-9.4z" fill="#000" stroke-width="0.5"/><path d="M711,424.5v1.5M718.6,424.5v1.5" stroke-width="1.2"/><path d="M710.2,432.5a4.8,4.8 0 0 1 8.8,-2.8" stroke-width="1.3"/></g>
<path d="M731.2,421.3 L727.2,430.4 L729.6,430.0 L726.4,437.4 L732.4,427.2 L730.0,427.6 L732.2,421.3z" fill="#000" stroke="#000" stroke-width="0.6"/>
</svg></body></html>
